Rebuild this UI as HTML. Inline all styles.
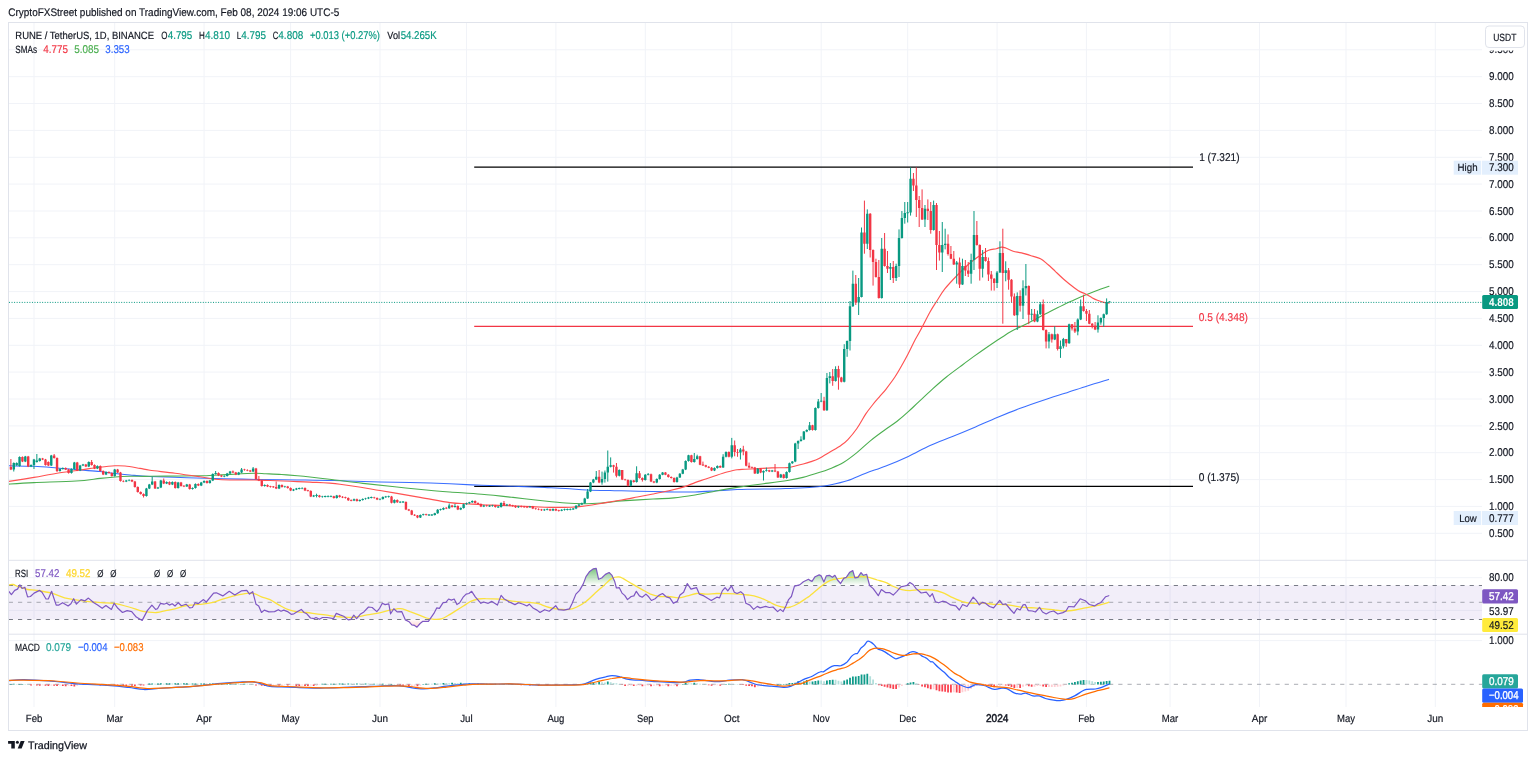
<!DOCTYPE html>
<html><head><meta charset="utf-8"><title>RUNE / TetherUS chart</title>
<style>html,body{margin:0;padding:0;background:#fff;}body{width:1536px;height:760px;overflow:hidden;font-family:"Liberation Sans",sans-serif;}svg{display:block}</style>
</head><body>
<svg width="1536" height="760" viewBox="0 0 1536 760" font-family="Liberation Sans, sans-serif" text-rendering="geometricPrecision"><rect x="0" y="0" width="1536" height="760" fill="#fff"/>
<line x1="34.0" y1="23" x2="34.0" y2="707" stroke="#f1f3f8" stroke-width="1"/>
<line x1="114.7" y1="23" x2="114.7" y2="707" stroke="#f1f3f8" stroke-width="1"/>
<line x1="204.1" y1="23" x2="204.1" y2="707" stroke="#f1f3f8" stroke-width="1"/>
<line x1="290.6" y1="23" x2="290.6" y2="707" stroke="#f1f3f8" stroke-width="1"/>
<line x1="380.0" y1="23" x2="380.0" y2="707" stroke="#f1f3f8" stroke-width="1"/>
<line x1="466.5" y1="23" x2="466.5" y2="707" stroke="#f1f3f8" stroke-width="1"/>
<line x1="555.9" y1="23" x2="555.9" y2="707" stroke="#f1f3f8" stroke-width="1"/>
<line x1="645.3" y1="23" x2="645.3" y2="707" stroke="#f1f3f8" stroke-width="1"/>
<line x1="731.8" y1="23" x2="731.8" y2="707" stroke="#f1f3f8" stroke-width="1"/>
<line x1="821.2" y1="23" x2="821.2" y2="707" stroke="#f1f3f8" stroke-width="1"/>
<line x1="907.7" y1="23" x2="907.7" y2="707" stroke="#f1f3f8" stroke-width="1"/>
<line x1="997.1" y1="23" x2="997.1" y2="707" stroke="#f1f3f8" stroke-width="1"/>
<line x1="1086.4" y1="23" x2="1086.4" y2="707" stroke="#f1f3f8" stroke-width="1"/>
<line x1="1170.1" y1="23" x2="1170.1" y2="707" stroke="#f1f3f8" stroke-width="1"/>
<line x1="1259.5" y1="23" x2="1259.5" y2="707" stroke="#f1f3f8" stroke-width="1"/>
<line x1="1346.0" y1="23" x2="1346.0" y2="707" stroke="#f1f3f8" stroke-width="1"/>
<line x1="1435.3" y1="23" x2="1435.3" y2="707" stroke="#f1f3f8" stroke-width="1"/>
<line x1="9" y1="533.3" x2="1482" y2="533.3" stroke="#f1f3f8" stroke-width="1"/>
<line x1="9" y1="506.4" x2="1482" y2="506.4" stroke="#f1f3f8" stroke-width="1"/>
<line x1="9" y1="479.6" x2="1482" y2="479.6" stroke="#f1f3f8" stroke-width="1"/>
<line x1="9" y1="452.7" x2="1482" y2="452.7" stroke="#f1f3f8" stroke-width="1"/>
<line x1="9" y1="425.9" x2="1482" y2="425.9" stroke="#f1f3f8" stroke-width="1"/>
<line x1="9" y1="399.0" x2="1482" y2="399.0" stroke="#f1f3f8" stroke-width="1"/>
<line x1="9" y1="372.1" x2="1482" y2="372.1" stroke="#f1f3f8" stroke-width="1"/>
<line x1="9" y1="345.3" x2="1482" y2="345.3" stroke="#f1f3f8" stroke-width="1"/>
<line x1="9" y1="318.4" x2="1482" y2="318.4" stroke="#f1f3f8" stroke-width="1"/>
<line x1="9" y1="291.6" x2="1482" y2="291.6" stroke="#f1f3f8" stroke-width="1"/>
<line x1="9" y1="264.7" x2="1482" y2="264.7" stroke="#f1f3f8" stroke-width="1"/>
<line x1="9" y1="237.8" x2="1482" y2="237.8" stroke="#f1f3f8" stroke-width="1"/>
<line x1="9" y1="211.0" x2="1482" y2="211.0" stroke="#f1f3f8" stroke-width="1"/>
<line x1="9" y1="184.1" x2="1482" y2="184.1" stroke="#f1f3f8" stroke-width="1"/>
<line x1="9" y1="157.3" x2="1482" y2="157.3" stroke="#f1f3f8" stroke-width="1"/>
<line x1="9" y1="130.4" x2="1482" y2="130.4" stroke="#f1f3f8" stroke-width="1"/>
<line x1="9" y1="103.5" x2="1482" y2="103.5" stroke="#f1f3f8" stroke-width="1"/>
<line x1="9" y1="76.7" x2="1482" y2="76.7" stroke="#f1f3f8" stroke-width="1"/>
<line x1="9" y1="49.8" x2="1482" y2="49.8" stroke="#f1f3f8" stroke-width="1"/>
<line x1="9" y1="577.7" x2="1482" y2="577.7" stroke="#f1f3f8" stroke-width="1"/>
<line x1="9" y1="610.4" x2="1482" y2="610.4" stroke="#f1f3f8" stroke-width="1"/>
<line x1="9" y1="640.6" x2="1482" y2="640.6" stroke="#f1f3f8" stroke-width="1"/>
<clipPath id="cmain"><rect x="9" y="23" width="1473" height="537"/></clipPath><clipPath id="crsi"><rect x="9" y="560.5" width="1473" height="73.5"/></clipPath>
<g id="main" clip-path="url(#cmain)">
<line x1="474.2" y1="167.0" x2="1193" y2="167.0" stroke="#000" stroke-width="1.25"/>
<line x1="474.2" y1="326.4" x2="1193" y2="326.4" stroke="#f23645" stroke-width="1.2"/>
<line x1="474.2" y1="486.4" x2="1193" y2="486.4" stroke="#000" stroke-width="1.25"/>
<path d="M8.0 465.8C12.3 465.9 25.8 466.0 34.0 466.3C42.2 466.6 49.3 467.3 57.0 467.9C64.7 468.5 72.8 469.4 80.0 470.0C87.2 470.6 94.2 471.0 100.0 471.6C105.8 472.2 110.0 472.9 115.0 473.5C120.0 474.1 124.2 474.5 130.0 475.0C135.8 475.5 140.5 476.1 150.0 476.5C159.5 476.9 174.7 477.3 187.0 477.7C199.3 478.1 211.5 478.4 223.7 478.7C235.9 479.0 247.8 479.3 260.0 479.5C272.2 479.7 284.7 479.7 297.0 479.9C309.3 480.1 320.2 480.2 334.0 480.6C347.8 481.0 367.3 481.7 380.0 482.0C392.7 482.3 398.3 482.1 410.0 482.4C421.7 482.7 438.1 483.3 450.0 483.8C461.9 484.3 471.1 484.9 481.6 485.3C492.1 485.7 502.5 486.0 513.0 486.3C523.5 486.6 535.9 487.0 544.7 487.4C553.5 487.8 558.8 488.0 565.8 488.4C572.8 488.8 579.4 489.6 586.8 490.0C594.2 490.4 604.2 490.5 610.0 490.6C615.8 490.7 614.4 490.6 621.6 490.8C628.8 491.0 644.3 491.4 653.0 491.6C661.7 491.8 667.0 491.9 674.0 492.0C681.0 492.1 688.0 492.1 695.0 491.9C702.0 491.7 709.0 491.2 716.0 490.8C723.0 490.4 731.3 489.9 737.0 489.6C742.7 489.3 745.3 489.3 750.0 489.2C754.7 489.1 759.8 489.1 765.0 489.0C770.2 488.9 775.2 488.9 781.0 488.7C786.8 488.5 793.8 488.3 800.0 488.0C806.2 487.7 813.0 487.2 818.0 486.7C823.0 486.2 825.0 486.0 830.0 485.0C835.0 484.0 841.9 482.6 847.9 480.6C853.9 478.6 859.5 475.6 865.8 473.2C872.1 470.8 878.8 468.8 885.9 466.0C893.0 463.2 900.8 459.9 908.3 456.4C915.8 452.9 923.2 448.5 930.7 445.2C938.2 441.9 945.6 439.4 953.1 436.3C960.6 433.2 968.0 430.1 975.5 426.9C983.0 423.7 990.3 420.4 997.8 417.3C1005.2 414.2 1012.7 411.1 1020.2 408.3C1027.7 405.5 1035.1 403.0 1042.6 400.5C1050.1 398.0 1057.5 395.7 1065.0 393.3C1072.5 390.9 1080.0 388.2 1087.3 385.9C1094.6 383.6 1105.0 380.5 1108.6 379.4" fill="none" stroke="#2962ff" stroke-width="1.05" stroke-linejoin="round" stroke-linecap="round" stroke-opacity="0.92"/>
<path d="M8.0 484.2C12.3 483.9 22.7 483.1 34.0 482.6C45.3 482.1 65.0 481.7 76.0 481.0C87.0 480.3 93.5 479.1 100.0 478.4C106.5 477.7 110.0 477.4 115.0 477.0C120.0 476.6 124.2 476.4 130.0 476.3C135.8 476.2 141.4 476.4 150.0 476.3C158.6 476.2 172.8 476.1 181.6 476.0C190.4 475.9 197.4 475.9 202.6 475.8C207.8 475.7 207.8 475.6 213.0 475.3C218.2 475.0 227.0 474.6 234.0 474.2C241.0 473.8 249.7 473.3 255.0 473.2C260.3 473.1 261.4 473.5 265.8 473.7C270.2 473.9 276.3 474.1 281.6 474.5C286.9 474.9 292.7 475.4 297.4 475.8C302.1 476.2 304.3 476.4 310.0 477.0C315.7 477.6 322.8 478.4 331.6 479.5C340.4 480.6 352.5 482.2 363.0 483.4C373.5 484.6 384.1 485.7 394.7 486.8C405.2 487.9 417.1 489.1 426.3 490.0C435.5 490.9 440.8 491.3 450.0 492.0C459.2 492.7 471.1 493.4 481.6 494.3C492.1 495.2 502.5 496.3 513.0 497.4C523.5 498.5 535.9 500.1 544.7 501.0C553.5 501.9 560.6 502.6 565.8 503.0C571.0 503.4 572.5 503.4 576.0 503.5C579.5 503.6 583.2 503.7 586.8 503.7C590.4 503.7 593.5 503.6 597.4 503.3C601.3 503.1 606.0 502.6 610.0 502.2C614.0 501.8 614.4 501.4 621.6 500.9C628.8 500.4 644.3 499.5 653.0 499.0C661.7 498.5 667.0 498.6 674.0 497.9C681.0 497.2 688.0 496.1 695.0 495.0C702.0 493.9 709.0 492.3 716.0 491.0C723.0 489.7 731.3 488.3 737.0 487.4C742.7 486.5 745.5 486.1 750.0 485.5C754.5 484.9 757.5 484.5 763.7 483.7C769.9 482.9 780.9 481.6 787.4 480.5C793.9 479.4 797.7 478.7 803.0 477.4C808.3 476.1 814.5 474.1 819.0 472.6C823.5 471.2 825.9 470.4 830.0 468.7C834.1 467.0 838.9 465.2 843.4 462.5C847.9 459.8 852.4 456.2 856.9 452.6C861.4 449.0 865.8 444.5 870.3 440.8C874.8 437.1 879.2 433.9 883.7 430.7C888.2 427.4 893.0 424.5 897.1 421.3C901.2 418.1 904.6 415.1 908.3 411.7C912.0 408.3 915.4 405.0 919.5 401.2C923.6 397.4 928.4 392.6 932.9 388.6C937.4 384.6 941.9 380.6 946.4 377.0C950.9 373.4 955.3 370.2 959.8 366.9C964.3 363.5 968.7 360.1 973.2 356.9C977.7 353.7 982.1 350.6 986.6 347.5C991.1 344.4 995.9 341.1 1000.0 338.5C1004.1 335.9 1007.4 333.6 1011.0 331.6C1014.6 329.6 1018.1 328.1 1021.6 326.3C1025.1 324.5 1028.5 322.8 1032.0 321.0C1035.5 319.2 1039.1 317.1 1042.6 315.3C1046.1 313.5 1049.5 311.8 1053.0 310.0C1056.5 308.2 1060.2 306.4 1063.7 304.7C1067.2 303.0 1070.5 301.6 1074.0 300.0C1077.5 298.4 1081.2 296.8 1084.7 295.3C1088.2 293.9 1091.0 292.8 1095.0 291.3C1099.0 289.8 1106.7 287.1 1109.0 286.3" fill="none" stroke="#4caf50" stroke-width="1.1" stroke-linejoin="round" stroke-linecap="round" />
<path d="M8.0 481.6C12.3 480.9 25.8 478.8 34.0 477.4C42.2 476.0 49.3 474.4 57.0 473.2C64.7 472.0 72.8 471.0 80.0 470.0C87.2 469.0 94.2 467.9 100.0 467.2C105.8 466.5 110.8 466.0 115.0 465.8C119.2 465.6 120.8 465.6 125.0 466.0C129.2 466.4 135.8 467.7 140.0 468.4C144.2 469.1 144.2 469.5 150.0 470.3C155.8 471.1 166.7 472.1 175.0 473.2C183.3 474.3 193.3 475.8 200.0 476.8C206.7 477.8 210.0 478.7 215.0 479.2C220.0 479.7 223.3 479.9 230.0 480.0C236.7 480.1 248.3 479.9 255.0 480.0C261.7 480.1 264.2 480.3 270.0 480.5C275.8 480.7 283.3 481.0 290.0 481.3C296.7 481.6 301.7 481.6 310.0 482.1C318.3 482.6 328.3 482.8 340.0 484.2C351.7 485.6 366.7 488.3 380.0 490.5C393.3 492.7 408.3 495.4 420.0 497.4C431.7 499.4 442.3 501.6 450.0 502.6C457.7 503.7 460.7 503.4 466.0 503.7C471.3 504.0 475.5 504.4 481.6 504.7C487.7 505.0 495.6 505.2 502.6 505.5C509.6 505.8 516.7 506.0 523.7 506.3C530.7 506.6 539.5 507.0 544.7 507.2C549.9 507.4 550.6 507.4 555.0 507.4C559.4 507.4 566.6 507.4 571.0 507.2C575.4 507.0 578.1 506.8 581.6 506.4C585.1 506.0 588.0 505.6 592.0 505.0C596.0 504.4 600.9 503.4 605.8 502.6C610.7 501.8 616.3 500.9 621.6 500.0C626.9 499.1 632.2 498.0 637.4 497.0C642.6 496.0 647.7 495.0 653.0 494.0C658.3 493.0 663.7 492.0 669.0 490.8C674.3 489.6 680.4 488.0 684.7 486.6C689.0 485.2 691.5 483.9 695.0 482.6C698.5 481.3 702.3 480.2 705.8 479.0C709.3 477.8 712.5 476.7 716.0 475.5C719.5 474.3 723.5 472.9 727.0 472.0C730.5 471.1 734.0 470.2 737.0 469.8C740.0 469.4 741.9 469.5 745.0 469.3C748.1 469.1 751.4 468.9 755.8 468.7C760.2 468.5 766.3 468.1 771.6 467.9C776.9 467.7 783.5 467.9 787.4 467.6C791.3 467.3 792.7 466.6 795.3 466.0C797.9 465.4 800.6 464.7 803.2 464.0C805.8 463.3 808.4 462.5 811.0 461.6C813.6 460.7 815.8 460.0 819.0 458.4C822.2 456.8 826.3 454.2 830.0 452.0C833.7 449.8 838.2 447.3 841.2 445.2C844.2 443.1 845.3 442.4 847.9 439.6C850.5 436.8 853.9 432.8 856.9 428.5C859.9 424.2 863.2 417.8 865.8 413.9C868.4 410.0 870.3 407.8 872.5 405.0C874.7 402.2 877.0 399.7 879.2 397.1C881.4 394.5 883.3 392.7 885.9 389.3C888.5 385.9 892.3 380.9 894.9 377.0C897.5 373.1 899.4 369.7 901.6 365.8C903.8 361.9 906.1 357.8 908.3 353.5C910.5 349.2 913.0 343.9 915.0 340.0C917.0 336.1 918.1 334.7 920.6 330.0C923.1 325.3 927.3 316.9 930.0 312.0C932.7 307.1 934.5 304.6 937.0 300.7C939.5 296.8 941.6 293.0 945.0 288.7C948.4 284.4 953.3 279.3 957.5 275.0C961.7 270.7 965.8 266.6 970.0 263.0C974.2 259.4 979.4 255.8 982.5 253.7C985.6 251.6 986.4 251.1 988.7 250.3C991.0 249.5 994.1 249.2 996.3 248.7C998.4 248.2 1000.0 247.2 1001.6 247.1C1003.2 247.0 1003.9 247.3 1005.8 248.0C1007.7 248.7 1010.6 250.5 1013.2 251.3C1015.8 252.1 1018.5 252.1 1021.6 252.9C1024.7 253.7 1028.8 255.0 1032.0 256.0C1035.2 257.0 1037.8 257.3 1040.5 258.7C1043.2 260.1 1045.4 262.4 1047.9 264.5C1050.4 266.6 1052.7 268.9 1055.3 271.3C1057.9 273.8 1060.9 276.8 1063.7 279.2C1066.5 281.6 1069.5 284.1 1072.0 286.0C1074.5 287.9 1076.3 289.5 1078.4 290.8C1080.5 292.1 1082.6 292.6 1084.7 293.6C1086.8 294.7 1088.9 296.0 1091.0 297.1C1093.1 298.2 1095.3 299.4 1097.4 300.3C1099.5 301.2 1101.8 301.9 1103.7 302.4C1105.6 302.9 1108.1 303.0 1109.0 303.1" fill="none" stroke="#ff5252" stroke-width="1.15" stroke-linejoin="round" stroke-linecap="round" />
<line x1="9" y1="302.4" x2="1482" y2="302.4" stroke="#089981" stroke-width="1" stroke-dasharray="1 1.55"/>
<path d="M13.78 462.4V471.5M16.67 462.4V465.8M19.55 456.4V466.6M25.32 455.9V462.1M31.08 464.4V467.1M33.97 458.9V469.0M36.85 454.0V462.6M39.73 457.9V461.6M51.27 454.9V466.1M59.92 468.4V471.6M62.80 467.4V469.6M71.45 468.4V473.6M74.34 461.9V469.6M80.10 464.9V471.1M82.99 463.9V466.1M88.75 461.4V467.1M97.41 465.4V469.1M106.06 471.4V475.1M114.71 468.9V476.6M126.24 479.9V482.1M129.12 479.3V481.2M146.42 487.9V496.6M149.31 483.9V489.1M152.19 476.8V485.1M157.96 486.9V488.9M160.84 479.9V488.1M166.61 481.4V484.1M172.38 481.4V485.1M178.14 481.9V488.6M186.79 483.9V486.9M192.56 487.4V489.6M195.44 483.4V488.6M201.21 481.9V486.1M204.09 480.4V483.1M209.86 479.9V483.6M212.75 473.4V481.1M215.63 471.0V474.6M224.28 475.3V477.2M227.16 472.9V476.6M230.05 470.9V474.1M238.70 471.9V475.1M241.58 468.0V473.1M253.11 467.0V472.1M264.65 484.4V486.6M279.07 484.4V489.1M284.83 485.8V487.7M293.48 488.9V491.1M296.37 487.9V490.1M299.25 487.6V489.4M302.13 487.3V489.2M313.67 494.9V497.1M316.55 493.7V497.4M322.32 495.8V497.7M325.20 495.6V497.4M328.08 495.4V497.3M330.97 495.4V497.2M336.74 494.9V498.6M354.04 498.6V501.1M359.80 499.4V501.6M362.69 498.4V500.6M365.57 497.8V499.7M368.45 496.9V499.1M371.34 496.6V498.4M379.99 498.3V500.2M382.87 496.4V499.6M385.75 495.9V497.8M388.64 495.7V497.6M394.41 499.4V503.4M400.17 501.2V503.1M403.06 501.1V502.9M420.36 514.5V518.0M423.24 513.7V515.6M429.01 514.1V515.9M431.89 514.1V515.9M434.77 512.8V515.5M437.66 509.1V513.8M440.54 508.7V510.6M443.43 507.4V510.1M449.19 503.5V508.9M454.96 504.0V507.6M460.73 507.4V510.1M463.61 503.6V508.6M466.49 502.6V504.8M469.38 501.8V503.8M472.26 500.4V502.9M483.79 504.9V507.1M489.56 505.1V506.9M492.44 504.8V506.7M498.21 506.1V507.9M501.10 502.4V507.6M506.86 503.9V506.1M518.40 505.8V507.9M529.93 505.9V507.8M544.35 508.9V510.9M547.23 508.4V510.3M553.00 508.4V511.1M561.65 509.2V511.2M564.53 508.7V510.6M567.42 508.6V510.4M570.30 508.4V510.3M573.18 508.0V509.9M576.07 505.2V509.2M578.95 503.9V506.4M581.83 502.6V505.1M584.72 497.8V503.8M587.60 489.0V498.9M590.48 482.1V492.1M593.37 478.9V483.2M596.25 471.0V480.1M602.02 471.6V484.7M604.90 470.5V482.6M607.78 450.5V481.6M610.67 457.4V467.4M619.32 469.4V476.4M630.85 479.9V486.4M636.62 466.3V482.6M645.27 474.1V480.6M648.15 473.0V475.4M656.80 478.4V483.2M659.69 474.1V479.6M662.57 472.1V475.2M676.99 476.8V482.6M679.87 473.1V477.9M682.76 468.9V474.2M685.64 460.4V470.1M688.52 454.8V461.6M694.29 453.0V462.6M697.17 454.7V459.6M714.47 467.4V471.1M717.36 465.4V468.6M723.12 454.2V467.9M726.01 451.4V457.4M731.77 437.9V458.4M740.43 448.0V459.5M757.73 468.1V473.9M763.49 470.4V480.5M766.38 467.6V471.6M772.14 469.9V472.1M780.79 473.9V477.9M786.56 471.4V478.6M789.45 462.6V472.6M792.33 461.1V463.8M795.21 442.8V462.2M798.10 440.4V449.0M800.98 436.3V441.6M803.86 431.1V440.1M806.75 429.4V432.2M809.63 422.0V430.6M815.40 407.4V430.6M818.28 399.0V408.6M821.16 393.0V402.2M826.93 373.0V410.9M829.81 372.0V383.4M835.58 366.3V381.6M844.23 344.2V382.4M847.12 340.5V356.8M850.00 301.0V350.5M852.88 270.6V306.9M858.65 278.0V315.0M861.53 227.5V297.4M867.30 209.4V249.0M881.72 238.0V298.6M890.37 263.0V280.0M896.13 263.7V281.0M899.02 229.4V277.0M901.90 211.0V238.6M904.79 202.0V223.7M907.67 202.0V222.5M910.55 167.5V215.6M924.97 205.0V227.0M933.62 200.6V230.6M942.27 222.0V272.0M945.15 228.7V249.4M956.69 261.0V283.7M962.46 258.7V284.9M971.11 253.7V283.7M973.99 211.0V270.0M982.64 250.0V277.5M997.06 271.0V288.0M999.94 241.3V272.9M1005.71 261.3V281.3M1017.24 292.4V330.0M1023.01 280.3V319.0M1025.89 264.0V295.5M1031.66 309.0V320.5M1037.43 310.5V322.2M1040.31 302.0V314.8M1048.96 332.0V348.4M1054.73 326.3V340.1M1060.49 340.5V357.9M1063.38 337.9V348.4M1069.14 323.7V343.8M1077.80 318.4V335.3M1080.68 299.5V320.1M1097.98 315.3V332.6M1100.86 317.4V324.7M1103.75 313.6V326.8M1106.63 298.4V314.8M1109.51 301.2V302.7" stroke="#089981" stroke-width="1" fill="none"/>
<path d="M10.90 459.0V470.1M22.43 456.4V462.1M28.20 455.9V467.1M42.62 457.9V460.1M45.50 458.9V465.6M48.39 461.4V466.1M54.15 454.0V458.6M57.04 457.4V472.0M65.69 467.4V470.1M68.57 468.9V473.6M77.22 461.9V471.1M85.87 463.9V467.1M91.64 460.0V465.6M94.52 464.4V469.1M100.29 465.4V471.6M103.17 470.4V475.1M108.94 471.4V473.6M111.82 472.4V476.6M117.59 468.9V473.1M120.47 471.9V481.6M123.36 480.3V482.2M132.01 479.4V482.1M134.89 480.9V487.6M137.77 486.4V492.6M140.66 491.4V494.6M143.54 493.4V497.5M155.08 480.9V488.9M163.73 478.5V484.1M169.49 481.4V485.1M175.26 481.4V488.6M181.03 481.9V486.6M183.91 485.2V487.1M189.68 483.9V489.6M198.33 483.4V486.1M206.98 480.4V483.6M218.51 472.4V476.1M221.40 474.9V477.1M232.93 470.5V473.1M235.81 471.9V475.1M244.46 468.8V470.7M247.35 469.3V471.2M250.23 469.9V472.1M256.00 467.9V479.6M258.88 476.0V481.1M261.76 479.9V486.6M267.53 484.4V487.1M270.42 485.8V487.6M273.30 486.0V487.9M276.18 481.5V489.1M281.95 484.4V487.6M287.72 485.9V488.6M290.60 487.4V491.1M305.02 487.4V491.1M307.90 489.8V491.6M310.78 490.3V497.1M319.43 494.9V497.6M333.85 495.8V498.6M339.62 494.9V497.6M342.50 496.2V498.1M345.39 496.7V498.6M348.27 497.4V500.9M351.15 499.4V501.3M356.92 498.6V501.6M374.22 496.8V498.7M377.10 497.4V500.1M391.52 495.9V503.4M397.29 499.4V502.9M405.94 501.4V510.1M408.82 508.9V511.1M411.71 509.9V515.2M414.59 514.2V516.0M417.47 515.0V518.2M426.12 513.7V515.6M446.31 507.2V509.1M452.08 504.9V507.6M457.84 505.4V510.1M475.14 500.4V503.6M478.03 502.4V504.6M480.91 503.4V507.1M486.68 504.8V506.7M495.33 504.9V507.6M503.98 501.0V506.1M509.75 503.9V506.1M512.63 504.8V506.7M515.51 505.4V507.9M521.28 505.6V507.5M524.16 505.9V507.8M527.05 506.2V508.1M532.81 505.9V509.1M535.70 507.8V509.7M538.58 508.3V510.2M541.46 508.9V510.9M550.11 508.8V511.1M555.88 508.4V511.1M558.76 509.7V511.6M599.13 470.0V483.2M613.55 464.8V472.6M616.44 463.0V477.4M622.20 470.0V480.1M625.09 478.8V480.7M627.97 479.4V486.4M633.74 479.9V482.6M639.50 471.0V478.6M642.39 477.4V481.6M651.04 473.6V482.1M653.92 480.9V483.2M665.45 472.1V475.2M668.34 474.1V477.6M671.22 476.4V478.6M674.11 477.4V482.6M691.41 454.8V462.6M700.06 455.8V465.2M702.94 461.6V465.9M705.82 464.8V467.4M708.71 466.2V468.2M711.59 467.1V471.1M720.24 465.4V467.9M728.89 451.4V457.4M734.66 440.5V456.3M737.54 449.0V456.8M743.31 445.8V455.3M746.19 450.9V466.4M749.08 462.6V468.4M751.96 466.5V468.4M754.84 466.9V473.9M760.61 468.1V473.2M769.26 469.8V472.1M775.03 464.0V472.1M777.91 470.9V477.9M783.68 473.9V478.6M812.51 424.8V430.6M824.05 396.8V410.9M832.70 369.0V385.8M838.46 365.8V389.7M841.35 376.8V382.4M855.77 275.0V305.0M864.42 200.6V253.7M870.18 213.1V257.5M873.07 249.4V285.6M875.95 258.7V277.6M878.83 260.0V298.6M884.60 233.0V266.6M887.48 251.0V273.0M893.25 261.0V283.0M913.44 173.0V191.0M916.32 167.5V217.0M919.20 196.0V227.0M922.09 189.4V220.0M927.85 199.4V220.0M930.74 202.0V233.7M936.50 203.0V270.0M939.39 231.0V260.6M948.04 234.4V255.6M950.92 246.0V259.2M953.80 251.0V264.9M959.57 257.5V288.0M965.34 260.0V276.0M968.22 262.0V277.0M976.87 221.0V245.6M979.76 244.4V280.6M985.52 248.0V261.6M988.41 257.5V281.0M991.29 271.0V290.6M994.17 278.1V290.6M1002.82 228.7V323.7M1008.59 268.0V289.7M1011.47 279.1V302.4M1014.36 293.4V315.9M1020.12 290.3V311.6M1028.78 285.4V324.2M1034.54 309.0V322.2M1043.19 299.5V330.6M1046.08 329.4V348.4M1051.84 333.6V342.6M1057.61 333.6V350.5M1066.26 339.0V346.8M1072.03 324.2V330.5M1074.91 322.0V333.0M1083.56 294.7V311.6M1086.45 309.0V321.0M1089.33 310.0V324.2M1092.21 323.1V328.4M1095.10 322.0V330.1" stroke="#f23645" stroke-width="1" fill="none"/>
<path d="M12.58 463.0h2.4V469.5h-2.4zM15.47 463.0h2.4V465.2h-2.4zM18.35 457.0h2.4V466.0h-2.4zM24.12 456.5h2.4V461.5h-2.4zM29.88 465.0h2.4V466.5h-2.4zM32.77 459.5h2.4V465.0h-2.4zM35.65 460.5h2.4V462.0h-2.4zM38.53 458.5h2.4V461.0h-2.4zM50.07 455.5h2.4V465.5h-2.4zM58.72 469.0h2.4V471.0h-2.4zM61.60 468.0h2.4V469.0h-2.4zM70.25 469.0h2.4V473.0h-2.4zM73.14 462.5h2.4V469.0h-2.4zM78.90 465.5h2.4V470.5h-2.4zM81.79 464.5h2.4V465.5h-2.4zM87.55 462.0h2.4V466.5h-2.4zM96.21 466.0h2.4V468.5h-2.4zM104.86 472.0h2.4V474.5h-2.4zM113.51 469.5h2.4V476.0h-2.4zM125.04 480.5h2.4V481.5h-2.4zM127.92 479.9h2.4V480.6h-2.4zM145.22 488.5h2.4V496.0h-2.4zM148.11 484.5h2.4V488.5h-2.4zM150.99 481.5h2.4V484.5h-2.4zM156.76 487.5h2.4V488.4h-2.4zM159.64 480.5h2.4V487.5h-2.4zM165.41 482.0h2.4V483.5h-2.4zM171.18 482.0h2.4V484.5h-2.4zM176.94 482.5h2.4V488.0h-2.4zM185.59 484.5h2.4V486.4h-2.4zM191.36 488.0h2.4V489.0h-2.4zM194.24 484.0h2.4V488.0h-2.4zM200.01 482.5h2.4V485.5h-2.4zM202.89 481.0h2.4V482.5h-2.4zM208.66 480.5h2.4V483.0h-2.4zM211.55 474.0h2.4V480.5h-2.4zM214.43 473.0h2.4V474.0h-2.4zM223.08 475.9h2.4V476.6h-2.4zM225.96 473.5h2.4V476.0h-2.4zM228.85 471.5h2.4V473.5h-2.4zM237.50 472.5h2.4V474.5h-2.4zM240.38 469.5h2.4V472.5h-2.4zM251.91 468.5h2.4V471.5h-2.4zM263.45 485.0h2.4V486.0h-2.4zM277.87 485.0h2.4V488.5h-2.4zM283.63 486.4h2.4V487.1h-2.4zM292.28 489.5h2.4V490.5h-2.4zM295.17 488.5h2.4V489.5h-2.4zM298.05 488.1h2.4V488.9h-2.4zM300.93 487.9h2.4V488.6h-2.4zM312.47 495.5h2.4V496.5h-2.4zM315.35 495.1h2.4V495.9h-2.4zM321.12 496.4h2.4V497.1h-2.4zM324.00 496.1h2.4V496.9h-2.4zM326.88 496.0h2.4V496.8h-2.4zM329.77 495.9h2.4V496.7h-2.4zM335.54 495.5h2.4V498.0h-2.4zM352.84 499.2h2.4V500.5h-2.4zM358.60 500.0h2.4V501.0h-2.4zM361.49 499.0h2.4V500.0h-2.4zM364.37 498.4h2.4V499.1h-2.4zM367.25 497.5h2.4V498.5h-2.4zM370.14 497.1h2.4V497.9h-2.4zM378.79 498.9h2.4V499.6h-2.4zM381.67 497.0h2.4V499.0h-2.4zM384.56 496.5h2.4V497.2h-2.4zM387.44 496.2h2.4V497.0h-2.4zM393.21 500.0h2.4V502.8h-2.4zM398.97 501.8h2.4V502.5h-2.4zM401.86 501.6h2.4V502.4h-2.4zM419.16 515.0h2.4V517.5h-2.4zM422.04 514.2h2.4V515.0h-2.4zM427.81 514.6h2.4V515.4h-2.4zM430.69 514.6h2.4V515.4h-2.4zM433.57 513.3h2.4V515.0h-2.4zM436.46 509.7h2.4V513.3h-2.4zM439.34 509.2h2.4V510.0h-2.4zM442.23 508.0h2.4V509.5h-2.4zM447.99 505.5h2.4V508.3h-2.4zM453.76 506.0h2.4V507.0h-2.4zM459.53 508.0h2.4V509.5h-2.4zM462.41 504.2h2.4V508.0h-2.4zM465.29 503.2h2.4V504.2h-2.4zM468.18 502.3h2.4V503.2h-2.4zM471.06 501.0h2.4V502.3h-2.4zM482.59 505.5h2.4V506.5h-2.4zM488.36 505.6h2.4V506.4h-2.4zM491.24 505.4h2.4V506.1h-2.4zM497.01 506.6h2.4V507.4h-2.4zM499.90 503.0h2.4V507.0h-2.4zM505.66 504.5h2.4V505.5h-2.4zM517.20 506.3h2.4V507.3h-2.4zM528.73 506.5h2.4V507.2h-2.4zM543.15 509.5h2.4V510.3h-2.4zM546.03 509.0h2.4V509.8h-2.4zM551.80 509.0h2.4V510.5h-2.4zM560.45 509.8h2.4V510.7h-2.4zM563.33 509.2h2.4V510.0h-2.4zM566.22 509.1h2.4V509.9h-2.4zM569.10 509.0h2.4V509.8h-2.4zM571.98 508.6h2.4V509.4h-2.4zM574.87 505.8h2.4V508.6h-2.4zM577.75 504.5h2.4V505.8h-2.4zM580.63 503.2h2.4V504.5h-2.4zM583.52 498.4h2.4V503.2h-2.4zM586.40 491.5h2.4V498.4h-2.4zM589.28 482.6h2.4V491.5h-2.4zM592.17 479.5h2.4V482.6h-2.4zM595.05 476.8h2.4V479.5h-2.4zM600.82 479.0h2.4V482.6h-2.4zM603.70 472.6h2.4V479.0h-2.4zM606.58 466.8h2.4V472.6h-2.4zM609.47 465.3h2.4V466.8h-2.4zM618.12 470.0h2.4V475.8h-2.4zM629.65 480.5h2.4V485.8h-2.4zM635.42 473.2h2.4V482.0h-2.4zM644.07 474.7h2.4V480.0h-2.4zM646.95 474.1h2.4V474.8h-2.4zM655.60 479.0h2.4V482.6h-2.4zM658.49 474.7h2.4V479.0h-2.4zM661.37 472.6h2.4V474.7h-2.4zM675.79 477.4h2.4V482.0h-2.4zM678.67 473.7h2.4V477.4h-2.4zM681.56 469.5h2.4V473.7h-2.4zM684.44 461.0h2.4V469.5h-2.4zM687.32 455.3h2.4V461.0h-2.4zM693.09 459.0h2.4V462.0h-2.4zM695.97 456.3h2.4V459.0h-2.4zM713.27 468.0h2.4V470.5h-2.4zM716.16 466.0h2.4V468.0h-2.4zM721.92 456.8h2.4V467.4h-2.4zM724.81 452.0h2.4V456.8h-2.4zM730.57 445.3h2.4V456.8h-2.4zM739.23 449.5h2.4V452.6h-2.4zM756.53 468.7h2.4V473.4h-2.4zM762.29 471.0h2.4V472.6h-2.4zM765.18 470.2h2.4V471.0h-2.4zM770.94 470.5h2.4V471.5h-2.4zM779.59 474.5h2.4V477.4h-2.4zM785.36 472.0h2.4V478.0h-2.4zM788.25 463.2h2.4V472.0h-2.4zM791.13 461.6h2.4V463.2h-2.4zM794.01 443.4h2.4V461.6h-2.4zM796.90 441.0h2.4V443.4h-2.4zM799.78 439.5h2.4V441.0h-2.4zM802.66 431.6h2.4V439.5h-2.4zM805.55 430.0h2.4V431.6h-2.4zM808.43 425.3h2.4V430.0h-2.4zM814.20 408.0h2.4V430.0h-2.4zM817.08 401.6h2.4V408.0h-2.4zM819.96 400.8h2.4V401.6h-2.4zM825.73 378.0h2.4V410.3h-2.4zM828.61 376.3h2.4V378.0h-2.4zM834.38 369.0h2.4V381.0h-2.4zM843.03 349.0h2.4V381.8h-2.4zM845.91 341.0h2.4V349.0h-2.4zM848.80 306.3h2.4V341.0h-2.4zM851.68 283.7h2.4V306.3h-2.4zM857.45 296.9h2.4V302.5h-2.4zM860.33 232.5h2.4V296.9h-2.4zM866.10 213.7h2.4V243.7h-2.4zM880.52 248.7h2.4V298.0h-2.4zM889.17 267.0h2.4V268.7h-2.4zM894.93 266.0h2.4V278.0h-2.4zM897.82 238.0h2.4V266.0h-2.4zM900.70 218.0h2.4V238.0h-2.4zM903.59 213.0h2.4V218.0h-2.4zM906.47 212.3h2.4V213.2h-2.4zM909.35 178.7h2.4V212.5h-2.4zM923.77 208.7h2.4V219.4h-2.4zM932.42 205.0h2.4V230.0h-2.4zM941.07 245.0h2.4V252.5h-2.4zM943.95 243.7h2.4V245.0h-2.4zM955.49 262.5h2.4V264.4h-2.4zM961.25 266.0h2.4V284.4h-2.4zM969.91 260.0h2.4V273.7h-2.4zM972.79 235.0h2.4V260.0h-2.4zM981.44 257.0h2.4V268.7h-2.4zM995.86 272.4h2.4V283.0h-2.4zM998.74 252.9h2.4V272.4h-2.4zM1004.51 270.3h2.4V273.0h-2.4zM1016.04 296.0h2.4V315.3h-2.4zM1021.81 288.2h2.4V305.8h-2.4zM1024.69 286.0h2.4V288.2h-2.4zM1030.46 313.7h2.4V314.7h-2.4zM1036.23 314.2h2.4V321.6h-2.4zM1039.11 304.2h2.4V314.2h-2.4zM1047.76 334.2h2.4V341.6h-2.4zM1053.53 334.2h2.4V339.5h-2.4zM1059.29 346.3h2.4V349.0h-2.4zM1062.18 339.0h2.4V346.3h-2.4zM1067.94 324.2h2.4V343.2h-2.4zM1076.60 319.5h2.4V331.6h-2.4zM1079.48 306.3h2.4V319.5h-2.4zM1096.78 322.6h2.4V329.5h-2.4zM1099.66 318.0h2.4V322.6h-2.4zM1102.55 314.2h2.4V318.0h-2.4zM1105.43 302.1h2.4V314.2h-2.4zM1108.31 301.4h2.4V302.1h-2.4z" fill="#089981"/>
<path d="M9.70 467.0h2.4V469.5h-2.4zM21.23 457.0h2.4V461.5h-2.4zM27.00 456.5h2.4V466.5h-2.4zM41.42 458.5h2.4V459.5h-2.4zM44.30 459.5h2.4V465.0h-2.4zM47.19 462.0h2.4V465.5h-2.4zM52.95 455.5h2.4V458.0h-2.4zM55.84 458.0h2.4V471.0h-2.4zM64.49 468.0h2.4V469.5h-2.4zM67.37 469.5h2.4V473.0h-2.4zM76.02 462.5h2.4V470.5h-2.4zM84.67 464.5h2.4V466.5h-2.4zM90.44 462.0h2.4V465.0h-2.4zM93.32 465.0h2.4V468.5h-2.4zM99.09 466.0h2.4V471.0h-2.4zM101.97 471.0h2.4V474.5h-2.4zM107.74 472.0h2.4V473.0h-2.4zM110.62 473.0h2.4V476.0h-2.4zM116.39 469.5h2.4V472.5h-2.4zM119.27 472.5h2.4V481.0h-2.4zM122.16 480.9h2.4V481.6h-2.4zM130.81 480.0h2.4V481.5h-2.4zM133.69 481.5h2.4V487.0h-2.4zM136.57 487.0h2.4V492.0h-2.4zM139.46 492.0h2.4V494.0h-2.4zM142.34 494.0h2.4V496.0h-2.4zM153.88 481.5h2.4V488.4h-2.4zM162.53 480.5h2.4V483.5h-2.4zM168.29 482.0h2.4V484.5h-2.4zM174.06 482.0h2.4V488.0h-2.4zM179.83 482.5h2.4V486.0h-2.4zM182.71 485.8h2.4V486.6h-2.4zM188.48 484.5h2.4V489.0h-2.4zM197.13 484.0h2.4V485.5h-2.4zM205.78 481.0h2.4V483.0h-2.4zM217.31 473.0h2.4V475.5h-2.4zM220.20 475.5h2.4V476.5h-2.4zM231.73 471.5h2.4V472.5h-2.4zM234.61 472.5h2.4V474.5h-2.4zM243.26 469.4h2.4V470.1h-2.4zM246.15 469.9h2.4V470.6h-2.4zM249.03 470.5h2.4V471.5h-2.4zM254.80 468.5h2.4V479.0h-2.4zM257.68 479.0h2.4V480.5h-2.4zM260.56 480.5h2.4V486.0h-2.4zM266.33 485.0h2.4V486.5h-2.4zM269.22 486.3h2.4V487.1h-2.4zM272.10 486.6h2.4V487.3h-2.4zM274.98 487.0h2.4V488.5h-2.4zM280.75 485.0h2.4V487.0h-2.4zM286.52 486.5h2.4V488.0h-2.4zM289.40 488.0h2.4V490.5h-2.4zM303.82 488.0h2.4V490.5h-2.4zM306.70 490.3h2.4V491.1h-2.4zM309.58 490.9h2.4V496.5h-2.4zM318.23 495.5h2.4V497.0h-2.4zM332.65 496.3h2.4V498.0h-2.4zM338.42 495.5h2.4V497.0h-2.4zM341.30 496.8h2.4V497.5h-2.4zM344.19 497.2h2.4V498.0h-2.4zM347.07 498.0h2.4V500.3h-2.4zM349.95 500.0h2.4V500.8h-2.4zM355.72 499.2h2.4V501.0h-2.4zM373.02 497.4h2.4V498.1h-2.4zM375.90 498.0h2.4V499.5h-2.4zM390.32 496.5h2.4V502.8h-2.4zM396.09 500.0h2.4V502.3h-2.4zM404.74 502.0h2.4V509.5h-2.4zM407.62 509.5h2.4V510.5h-2.4zM410.51 510.5h2.4V514.7h-2.4zM413.39 514.7h2.4V515.5h-2.4zM416.27 515.5h2.4V517.5h-2.4zM424.92 514.2h2.4V515.0h-2.4zM445.11 507.8h2.4V508.5h-2.4zM450.88 505.5h2.4V507.0h-2.4zM456.64 506.0h2.4V509.5h-2.4zM473.94 501.0h2.4V503.0h-2.4zM476.83 503.0h2.4V504.0h-2.4zM479.71 504.0h2.4V506.5h-2.4zM485.48 505.4h2.4V506.1h-2.4zM494.13 505.5h2.4V507.0h-2.4zM502.78 503.0h2.4V505.5h-2.4zM508.55 504.5h2.4V505.5h-2.4zM511.43 505.4h2.4V506.1h-2.4zM514.31 506.0h2.4V507.3h-2.4zM520.08 506.2h2.4V506.9h-2.4zM522.96 506.5h2.4V507.3h-2.4zM525.85 506.7h2.4V507.5h-2.4zM531.61 506.5h2.4V508.5h-2.4zM534.50 508.4h2.4V509.1h-2.4zM537.38 508.9h2.4V509.6h-2.4zM540.26 509.5h2.4V510.3h-2.4zM548.91 509.3h2.4V510.5h-2.4zM554.68 509.0h2.4V510.5h-2.4zM557.56 510.2h2.4V511.0h-2.4zM597.93 476.8h2.4V482.6h-2.4zM612.35 465.3h2.4V466.8h-2.4zM615.24 466.8h2.4V475.8h-2.4zM621.00 470.0h2.4V479.5h-2.4zM623.89 479.4h2.4V480.1h-2.4zM626.77 480.0h2.4V485.8h-2.4zM632.54 480.5h2.4V482.0h-2.4zM638.30 473.2h2.4V478.0h-2.4zM641.19 478.0h2.4V480.0h-2.4zM649.84 474.2h2.4V481.5h-2.4zM652.72 481.5h2.4V482.6h-2.4zM664.25 472.6h2.4V474.7h-2.4zM667.14 474.7h2.4V477.0h-2.4zM670.02 477.0h2.4V478.0h-2.4zM672.90 478.0h2.4V482.0h-2.4zM690.21 455.3h2.4V462.0h-2.4zM698.86 456.3h2.4V464.7h-2.4zM701.74 464.6h2.4V465.4h-2.4zM704.62 465.3h2.4V466.8h-2.4zM707.51 466.8h2.4V467.7h-2.4zM710.39 467.7h2.4V470.5h-2.4zM719.04 466.0h2.4V467.4h-2.4zM727.69 452.0h2.4V456.8h-2.4zM733.46 445.3h2.4V452.0h-2.4zM736.34 451.9h2.4V452.7h-2.4zM742.11 449.5h2.4V451.5h-2.4zM744.99 451.5h2.4V465.8h-2.4zM747.88 465.8h2.4V467.4h-2.4zM750.76 467.1h2.4V467.8h-2.4zM753.64 467.5h2.4V473.4h-2.4zM759.41 468.7h2.4V472.6h-2.4zM768.06 470.3h2.4V471.5h-2.4zM773.83 470.5h2.4V471.5h-2.4zM776.71 471.5h2.4V477.4h-2.4zM782.48 474.5h2.4V478.0h-2.4zM811.31 425.3h2.4V430.0h-2.4zM822.85 400.8h2.4V410.3h-2.4zM831.50 376.3h2.4V381.0h-2.4zM837.26 369.0h2.4V377.4h-2.4zM840.15 377.4h2.4V381.8h-2.4zM854.57 283.7h2.4V302.5h-2.4zM863.22 232.5h2.4V243.7h-2.4zM868.98 213.7h2.4V250.0h-2.4zM871.87 250.0h2.4V262.0h-2.4zM874.75 262.0h2.4V277.0h-2.4zM877.63 277.0h2.4V298.0h-2.4zM883.40 248.7h2.4V266.0h-2.4zM886.28 266.0h2.4V268.7h-2.4zM892.05 267.0h2.4V278.0h-2.4zM912.24 178.7h2.4V185.6h-2.4zM915.12 185.6h2.4V200.0h-2.4zM918.00 200.0h2.4V208.0h-2.4zM920.89 208.0h2.4V219.4h-2.4zM926.65 208.7h2.4V211.0h-2.4zM929.54 211.0h2.4V230.0h-2.4zM935.30 205.0h2.4V245.0h-2.4zM938.19 245.0h2.4V252.5h-2.4zM946.84 243.7h2.4V254.0h-2.4zM949.72 254.0h2.4V258.7h-2.4zM952.60 258.7h2.4V264.4h-2.4zM958.37 262.5h2.4V284.4h-2.4zM964.14 266.0h2.4V270.6h-2.4zM967.02 270.6h2.4V273.7h-2.4zM975.67 235.0h2.4V245.0h-2.4zM978.56 245.0h2.4V268.7h-2.4zM984.32 257.0h2.4V261.0h-2.4zM987.21 261.0h2.4V274.4h-2.4zM990.09 274.4h2.4V278.7h-2.4zM992.97 278.7h2.4V283.0h-2.4zM1001.62 252.9h2.4V273.0h-2.4zM1007.39 270.3h2.4V279.7h-2.4zM1010.27 279.7h2.4V296.6h-2.4zM1013.16 296.6h2.4V315.3h-2.4zM1018.92 296.0h2.4V305.8h-2.4zM1027.58 286.0h2.4V314.7h-2.4zM1033.34 313.7h2.4V321.6h-2.4zM1041.99 304.2h2.4V330.0h-2.4zM1044.88 330.0h2.4V341.6h-2.4zM1050.64 334.2h2.4V339.5h-2.4zM1056.41 334.2h2.4V349.0h-2.4zM1065.06 339.0h2.4V343.2h-2.4zM1070.83 324.2h2.4V328.4h-2.4zM1073.71 328.4h2.4V331.6h-2.4zM1082.36 306.3h2.4V311.0h-2.4zM1085.25 311.0h2.4V313.7h-2.4zM1088.13 313.7h2.4V323.7h-2.4zM1091.01 323.7h2.4V325.8h-2.4zM1093.90 325.8h2.4V329.5h-2.4z" fill="#f23645"/>
<text filter="url(#nf)" x="1199.2" y="161.4" font-size="11.3" fill="#131722" textLength="40.3" lengthAdjust="spacingAndGlyphs" stroke="#131722" stroke-width="0.18" >1 (7.321)</text>
<text filter="url(#nf)" x="1198.7" y="320.9" font-size="11.3" fill="#f23645" textLength="49.3" lengthAdjust="spacingAndGlyphs" stroke="#f23645" stroke-width="0.18" >0.5 (4.348)</text>
<text filter="url(#nf)" x="1198.7" y="480.7" font-size="11.3" fill="#131722" textLength="40.8" lengthAdjust="spacingAndGlyphs" stroke="#131722" stroke-width="0.18" >0 (1.375)</text>
</g>
<defs><filter id="nf" x="-5%" y="-50%" width="110%" height="200%"><feOffset dx="0" dy="0"/></filter><linearGradient id="gob" x1="0" y1="568" x2="0" y2="585.5" gradientUnits="userSpaceOnUse"><stop offset="0" stop-color="#4caf50" stop-opacity="0.75"/><stop offset="1" stop-color="#4caf50" stop-opacity="0"/></linearGradient><linearGradient id="gos" x1="0" y1="619.2" x2="0" y2="628" gradientUnits="userSpaceOnUse"><stop offset="0" stop-color="#ff5252" stop-opacity="0"/><stop offset="1" stop-color="#ff5252" stop-opacity="0.3"/></linearGradient><clipPath id="cob"><rect x="0" y="560" width="1482" height="25.5"/></clipPath><clipPath id="cos"><rect x="0" y="619.2" width="1482" height="15"/></clipPath><clipPath id="cmacd"><rect x="8" y="634.5" width="1520" height="72.5"/></clipPath></defs>
<rect x="9" y="585.5" width="1473" height="33.89999999999998" fill="#7e57c2" fill-opacity="0.1"/>
<line x1="8.75" y1="585.5" x2="1482" y2="585.5" stroke="#787b86" stroke-width="1.05" stroke-dasharray="4.2 5.046"/>
<line x1="8.75" y1="619.4" x2="1482" y2="619.4" stroke="#787b86" stroke-width="1.05" stroke-dasharray="4.2 5.046"/>
<line x1="8.75" y1="602.4" x2="1482" y2="602.4" stroke="#787b86" stroke-opacity="0.5" stroke-width="1.1" stroke-dasharray="4.2 5.046"/>
<path d="M8.8 591.3 L11.4 594.6 L14.7 590.4 L17.5 589.1 L19.9 584.9 L22.1 588.5 L24.9 587.3 L27.6 596.8 L30.4 596.5 L34.1 593.1 L39.6 590.4 L42.0 592.2 L46.0 599.0 L48.3 599.0 L51.6 591.3 L53.4 596.8 L56.2 605.1 L58.9 605.1 L62.6 602.7 L68.1 606.0 L70.9 603.8 L73.7 598.7 L76.4 604.2 L81.0 599.6 L84.7 600.9 L88.4 598.1 L93.9 602.7 L97.6 605.1 L102.2 608.3 L105.9 605.5 L111.4 609.4 L114.2 603.3 L117.9 608.3 L122.5 612.5 L127.1 610.6 L131.7 611.6 L136.3 617.1 L142.2 620.4 L147.3 610.6 L151.9 605.1 L155.6 609.4 L157.5 608.8 L160.6 603.3 L163.9 604.2 L166.7 603.3 L169.4 605.1 L172.2 603.8 L175.0 606.0 L178.3 602.7 L181.4 605.7 L186.0 604.2 L189.7 607.9 L192.4 607.5 L195.2 602.7 L198.0 603.8 L203.5 599.6 L206.3 602.0 L213.6 593.1 L216.4 592.8 L222.8 595.9 L229.3 591.3 L234.8 595.0 L241.3 590.9 L246.8 590.4 L249.5 594.1 L252.7 591.7 L256.0 604.2 L258.7 606.0 L261.5 612.5 L264.3 610.1 L268.9 611.9 L274.6 611.6 L278.3 609.7 L281.0 611.2 L283.8 610.1 L287.5 611.6 L291.2 614.3 L293.9 613.8 L297.6 611.6 L301.3 609.4 L304.1 612.5 L306.8 613.8 L310.5 618.0 L314.2 618.6 L316.0 617.5 L319.4 619.3 L322.5 617.5 L327.1 617.5 L333.5 618.6 L336.3 613.4 L340.0 614.9 L343.7 616.2 L348.3 619.9 L351.0 619.3 L353.8 615.2 L356.6 618.6 L360.2 614.3 L363.9 611.9 L368.5 607.0 L372.2 607.5 L376.8 611.6 L379.6 608.3 L382.3 603.3 L385.1 604.6 L388.8 603.8 L390.6 613.8 L393.8 608.8 L397.1 611.9 L401.7 611.6 L405.4 619.9 L409.0 621.7 L411.8 624.8 L414.6 625.4 L417.0 627.2 L420.1 623.5 L422.9 621.3 L428.4 621.3 L433.9 613.4 L436.7 607.9 L439.4 608.3 L443.1 602.7 L445.9 602.4 L448.6 599.0 L451.4 600.1 L454.2 599.0 L456.9 604.6 L459.7 602.7 L463.4 596.8 L466.1 594.1 L468.9 593.5 L471.7 591.3 L475.3 596.8 L480.9 603.3 L483.6 602.0 L488.2 603.3 L491.9 601.4 L497.4 605.1 L501.1 595.4 L503.9 598.7 L509.4 602.0 L514.9 604.6 L518.6 602.7 L523.2 604.2 L526.9 606.0 L529.3 604.2 L533.4 608.3 L537.0 610.1 L540.0 612.5 L544.6 609.7 L549.2 611.2 L552.9 608.3 L555.7 605.7 L558.4 609.7 L563.9 610.1 L569.5 608.8 L572.2 603.3 L575.9 594.1 L579.6 590.4 L583.3 583.9 L586.0 576.6 L589.7 571.4 L593.4 568.8 L596.2 568.3 L598.6 579.3 L601.7 578.0 L605.4 574.4 L609.1 572.5 L611.8 575.1 L614.6 581.2 L616.4 588.0 L619.2 587.6 L622.0 593.1 L624.7 595.4 L627.5 599.6 L631.2 596.5 L633.9 595.9 L636.3 591.3 L639.4 595.9 L642.2 597.2 L645.9 594.1 L648.7 596.8 L651.4 600.5 L655.1 598.7 L658.8 595.4 L662.5 593.5 L666.2 596.8 L669.8 597.8 L673.5 603.3 L677.2 601.4 L680.0 595.0 L683.6 592.2 L687.3 583.6 L691.0 589.1 L696.5 587.6 L699.3 594.1 L703.9 595.9 L711.3 600.5 L716.8 597.2 L719.6 597.8 L722.3 590.9 L725.1 587.6 L727.8 590.9 L731.5 585.8 L734.3 592.2 L737.1 593.5 L740.7 591.7 L743.5 594.1 L745.9 603.3 L749.9 605.1 L753.6 609.4 L757.3 606.4 L760.1 607.9 L765.6 606.4 L769.3 607.5 L773.0 607.0 L777.6 611.6 L780.3 609.4 L783.1 611.6 L785.9 606.0 L788.6 599.6 L791.4 596.5 L794.5 586.2 L799.7 584.9 L803.4 581.7 L808.5 579.3 L810.0 580.4 L812.0 581.4 L815.1 576.7 L819.2 574.9 L821.2 575.9 L823.9 582.0 L826.3 575.9 L829.4 575.3 L832.4 577.3 L834.9 575.3 L837.5 580.0 L840.6 583.5 L843.7 578.4 L846.3 577.3 L849.8 572.2 L852.8 570.6 L854.9 577.9 L857.9 577.3 L861.0 572.6 L863.4 575.3 L866.7 574.3 L869.6 585.5 L873.2 588.6 L878.3 595.7 L881.4 589.6 L885.5 592.6 L889.5 592.6 L893.2 595.1 L896.7 591.6 L900.8 586.9 L906.9 585.5 L909.9 582.4 L913.0 584.5 L916.1 588.6 L921.2 593.0 L926.3 592.2 L929.9 596.7 L932.4 593.7 L935.4 601.8 L938.5 602.8 L942.6 601.2 L945.6 601.8 L950.7 604.9 L955.8 605.9 L959.3 610.0 L962.6 604.5 L967.0 606.5 L973.2 597.1 L976.2 600.4 L979.3 604.9 L982.3 602.4 L985.4 603.2 L989.5 606.5 L993.6 607.9 L999.7 600.4 L1002.7 604.5 L1005.8 603.9 L1010.9 610.0 L1014.0 613.4 L1017.0 608.5 L1020.1 610.0 L1023.1 604.9 L1025.2 604.5 L1028.2 610.6 L1032.3 611.0 L1035.4 612.0 L1039.5 607.3 L1042.5 612.0 L1046.2 614.0 L1049.6 612.0 L1053.7 611.0 L1057.8 614.0 L1062.9 612.6 L1066.0 611.0 L1068.6 606.5 L1074.1 606.9 L1080.2 598.8 L1085.3 600.8 L1089.4 604.5 L1094.5 605.9 L1097.6 603.9 L1100.6 602.8 L1105.7 596.7 L1108.8 595.7 L1108.8 585.5 L8.8 585.5Z" fill="url(#gob)" clip-path="url(#cob)"/>
<path d="M8.8 591.3 L11.4 594.6 L14.7 590.4 L17.5 589.1 L19.9 584.9 L22.1 588.5 L24.9 587.3 L27.6 596.8 L30.4 596.5 L34.1 593.1 L39.6 590.4 L42.0 592.2 L46.0 599.0 L48.3 599.0 L51.6 591.3 L53.4 596.8 L56.2 605.1 L58.9 605.1 L62.6 602.7 L68.1 606.0 L70.9 603.8 L73.7 598.7 L76.4 604.2 L81.0 599.6 L84.7 600.9 L88.4 598.1 L93.9 602.7 L97.6 605.1 L102.2 608.3 L105.9 605.5 L111.4 609.4 L114.2 603.3 L117.9 608.3 L122.5 612.5 L127.1 610.6 L131.7 611.6 L136.3 617.1 L142.2 620.4 L147.3 610.6 L151.9 605.1 L155.6 609.4 L157.5 608.8 L160.6 603.3 L163.9 604.2 L166.7 603.3 L169.4 605.1 L172.2 603.8 L175.0 606.0 L178.3 602.7 L181.4 605.7 L186.0 604.2 L189.7 607.9 L192.4 607.5 L195.2 602.7 L198.0 603.8 L203.5 599.6 L206.3 602.0 L213.6 593.1 L216.4 592.8 L222.8 595.9 L229.3 591.3 L234.8 595.0 L241.3 590.9 L246.8 590.4 L249.5 594.1 L252.7 591.7 L256.0 604.2 L258.7 606.0 L261.5 612.5 L264.3 610.1 L268.9 611.9 L274.6 611.6 L278.3 609.7 L281.0 611.2 L283.8 610.1 L287.5 611.6 L291.2 614.3 L293.9 613.8 L297.6 611.6 L301.3 609.4 L304.1 612.5 L306.8 613.8 L310.5 618.0 L314.2 618.6 L316.0 617.5 L319.4 619.3 L322.5 617.5 L327.1 617.5 L333.5 618.6 L336.3 613.4 L340.0 614.9 L343.7 616.2 L348.3 619.9 L351.0 619.3 L353.8 615.2 L356.6 618.6 L360.2 614.3 L363.9 611.9 L368.5 607.0 L372.2 607.5 L376.8 611.6 L379.6 608.3 L382.3 603.3 L385.1 604.6 L388.8 603.8 L390.6 613.8 L393.8 608.8 L397.1 611.9 L401.7 611.6 L405.4 619.9 L409.0 621.7 L411.8 624.8 L414.6 625.4 L417.0 627.2 L420.1 623.5 L422.9 621.3 L428.4 621.3 L433.9 613.4 L436.7 607.9 L439.4 608.3 L443.1 602.7 L445.9 602.4 L448.6 599.0 L451.4 600.1 L454.2 599.0 L456.9 604.6 L459.7 602.7 L463.4 596.8 L466.1 594.1 L468.9 593.5 L471.7 591.3 L475.3 596.8 L480.9 603.3 L483.6 602.0 L488.2 603.3 L491.9 601.4 L497.4 605.1 L501.1 595.4 L503.9 598.7 L509.4 602.0 L514.9 604.6 L518.6 602.7 L523.2 604.2 L526.9 606.0 L529.3 604.2 L533.4 608.3 L537.0 610.1 L540.0 612.5 L544.6 609.7 L549.2 611.2 L552.9 608.3 L555.7 605.7 L558.4 609.7 L563.9 610.1 L569.5 608.8 L572.2 603.3 L575.9 594.1 L579.6 590.4 L583.3 583.9 L586.0 576.6 L589.7 571.4 L593.4 568.8 L596.2 568.3 L598.6 579.3 L601.7 578.0 L605.4 574.4 L609.1 572.5 L611.8 575.1 L614.6 581.2 L616.4 588.0 L619.2 587.6 L622.0 593.1 L624.7 595.4 L627.5 599.6 L631.2 596.5 L633.9 595.9 L636.3 591.3 L639.4 595.9 L642.2 597.2 L645.9 594.1 L648.7 596.8 L651.4 600.5 L655.1 598.7 L658.8 595.4 L662.5 593.5 L666.2 596.8 L669.8 597.8 L673.5 603.3 L677.2 601.4 L680.0 595.0 L683.6 592.2 L687.3 583.6 L691.0 589.1 L696.5 587.6 L699.3 594.1 L703.9 595.9 L711.3 600.5 L716.8 597.2 L719.6 597.8 L722.3 590.9 L725.1 587.6 L727.8 590.9 L731.5 585.8 L734.3 592.2 L737.1 593.5 L740.7 591.7 L743.5 594.1 L745.9 603.3 L749.9 605.1 L753.6 609.4 L757.3 606.4 L760.1 607.9 L765.6 606.4 L769.3 607.5 L773.0 607.0 L777.6 611.6 L780.3 609.4 L783.1 611.6 L785.9 606.0 L788.6 599.6 L791.4 596.5 L794.5 586.2 L799.7 584.9 L803.4 581.7 L808.5 579.3 L810.0 580.4 L812.0 581.4 L815.1 576.7 L819.2 574.9 L821.2 575.9 L823.9 582.0 L826.3 575.9 L829.4 575.3 L832.4 577.3 L834.9 575.3 L837.5 580.0 L840.6 583.5 L843.7 578.4 L846.3 577.3 L849.8 572.2 L852.8 570.6 L854.9 577.9 L857.9 577.3 L861.0 572.6 L863.4 575.3 L866.7 574.3 L869.6 585.5 L873.2 588.6 L878.3 595.7 L881.4 589.6 L885.5 592.6 L889.5 592.6 L893.2 595.1 L896.7 591.6 L900.8 586.9 L906.9 585.5 L909.9 582.4 L913.0 584.5 L916.1 588.6 L921.2 593.0 L926.3 592.2 L929.9 596.7 L932.4 593.7 L935.4 601.8 L938.5 602.8 L942.6 601.2 L945.6 601.8 L950.7 604.9 L955.8 605.9 L959.3 610.0 L962.6 604.5 L967.0 606.5 L973.2 597.1 L976.2 600.4 L979.3 604.9 L982.3 602.4 L985.4 603.2 L989.5 606.5 L993.6 607.9 L999.7 600.4 L1002.7 604.5 L1005.8 603.9 L1010.9 610.0 L1014.0 613.4 L1017.0 608.5 L1020.1 610.0 L1023.1 604.9 L1025.2 604.5 L1028.2 610.6 L1032.3 611.0 L1035.4 612.0 L1039.5 607.3 L1042.5 612.0 L1046.2 614.0 L1049.6 612.0 L1053.7 611.0 L1057.8 614.0 L1062.9 612.6 L1066.0 611.0 L1068.6 606.5 L1074.1 606.9 L1080.2 598.8 L1085.3 600.8 L1089.4 604.5 L1094.5 605.9 L1097.6 603.9 L1100.6 602.8 L1105.7 596.7 L1108.8 595.7 L1108.8 619.4 L8.8 619.4Z" fill="url(#gos)" clip-path="url(#cos)"/>
<path d="M8.8 584.9C9.5 584.8 11.3 584.2 12.9 584.5C14.5 584.8 16.0 585.9 18.4 586.7C20.9 587.5 24.6 588.9 27.6 589.5C30.7 590.1 32.8 589.8 36.8 590.4C40.8 591.0 47.0 591.9 51.6 593.1C56.2 594.4 59.2 596.5 64.5 597.8C69.7 599.0 76.7 600.1 82.9 600.9C89.0 601.7 96.1 602.3 101.3 602.7C106.5 603.1 109.6 602.6 114.2 603.3C118.8 604.0 124.6 605.7 128.9 607.0C133.2 608.2 136.9 609.8 140.0 610.6C143.0 611.5 144.6 611.6 147.3 611.9C150.1 612.2 153.5 612.7 156.5 612.5C159.6 612.3 162.7 611.3 165.7 610.6C168.8 610.0 171.9 609.6 175.0 608.8C178.0 608.0 181.1 606.7 184.2 606.0C187.2 605.4 190.3 605.1 193.4 604.8C196.4 604.4 199.5 604.5 202.6 604.2C205.6 603.9 208.7 603.5 211.8 602.7C214.9 602.0 217.9 600.6 221.0 599.6C224.1 598.6 227.1 597.7 230.2 596.8C233.3 596.0 236.3 595.2 239.4 594.6C242.5 594.0 246.2 593.3 248.6 593.1C251.1 593.0 252.0 592.9 254.1 593.5C256.3 594.1 258.9 595.8 261.5 596.8C264.2 597.8 267.1 598.2 270.0 599.6C272.9 601.0 276.1 603.4 279.2 605.1C282.3 606.8 285.3 608.6 288.4 609.7C291.5 610.9 294.6 611.5 297.6 611.9C300.7 612.4 303.8 612.2 306.8 612.5C309.9 612.8 313.0 613.4 316.0 613.8C319.1 614.2 322.2 614.5 325.2 614.9C328.3 615.3 331.4 615.8 334.5 616.2C337.5 616.5 340.9 616.9 343.7 617.1C346.4 617.3 348.6 617.5 351.0 617.5C353.5 617.4 355.9 617.1 358.4 616.7C360.9 616.4 362.7 615.8 365.8 615.2C368.8 614.7 373.1 614.2 376.8 613.4C380.5 612.6 384.5 611.4 387.9 610.6C391.2 609.9 394.6 609.1 397.1 608.8C399.5 608.5 400.4 608.3 402.6 608.8C404.7 609.3 407.5 610.6 410.0 611.6C412.4 612.5 414.6 613.3 417.3 614.3C420.1 615.4 423.8 617.2 426.5 618.0C429.3 618.8 431.4 619.1 433.9 619.3C436.4 619.5 438.8 619.6 441.3 618.9C443.7 618.3 446.2 616.6 448.6 615.2C451.1 613.9 453.5 612.2 456.0 610.6C458.5 609.1 460.9 607.6 463.4 606.0C465.8 604.5 468.3 602.6 470.7 601.4C473.2 600.3 475.6 599.5 478.1 599.0C480.6 598.6 481.8 598.6 485.5 598.7C489.2 598.7 495.3 598.8 500.2 599.2C505.1 599.7 510.3 600.9 514.9 601.4C519.5 602.0 524.1 602.1 527.8 602.4C531.5 602.7 535.0 603.0 537.0 603.3C539.1 603.6 538.0 603.5 540.0 604.2C542.0 604.9 546.1 606.7 549.2 607.5C552.3 608.3 555.0 608.9 558.4 609.2C561.8 609.5 566.4 609.7 569.5 609.4C572.5 609.0 574.1 608.3 576.8 607.0C579.6 605.6 583.0 603.7 586.0 601.4C589.1 599.1 592.2 595.9 595.2 593.1C598.3 590.4 601.7 587.3 604.5 584.9C607.2 582.4 609.5 579.7 611.8 578.4C614.1 577.1 616.4 576.9 618.3 576.9C620.1 576.9 620.6 577.2 622.9 578.4C625.2 579.6 629.0 582.2 632.1 583.9C635.2 585.7 638.2 587.4 641.3 589.1C644.4 590.8 647.4 592.8 650.5 594.1C653.6 595.3 656.6 596.1 659.7 596.5C662.8 596.9 665.8 596.2 668.9 596.5C672.0 596.7 675.1 597.8 678.1 597.8C681.2 597.7 684.3 596.6 687.3 595.9C690.4 595.2 693.5 593.8 696.5 593.5C699.6 593.2 702.4 594.1 705.7 594.1C709.1 594.1 713.1 593.6 716.8 593.5C720.5 593.5 724.2 593.6 727.8 593.7C731.5 593.8 735.5 593.9 738.9 594.1C742.3 594.3 745.0 594.5 748.1 595.0C751.2 595.5 754.2 595.9 757.3 596.8C760.4 597.8 763.4 599.1 766.5 600.5C769.6 601.9 772.7 604.0 775.7 605.1C778.8 606.3 782.5 607.2 784.9 607.5C787.4 607.8 788.3 607.6 790.5 607.0C792.6 606.3 795.1 605.4 797.8 603.8C800.6 602.3 805.0 599.1 807.0 597.8C809.1 596.4 808.5 596.9 810.0 595.7C811.5 594.5 814.1 592.3 816.1 590.6C818.2 588.9 819.9 587.2 822.2 585.5C824.6 583.8 827.3 581.6 830.4 580.4C833.5 579.2 837.2 578.9 840.6 578.4C844.0 577.8 847.4 577.6 850.8 577.3C854.2 577.1 857.9 576.7 861.0 576.7C864.0 576.7 866.4 576.8 869.1 577.3C871.9 577.9 874.6 579.1 877.3 580.0C880.0 580.8 882.7 581.3 885.5 582.4C888.2 583.5 890.9 585.3 893.6 586.5C896.3 587.7 899.1 588.9 901.8 589.6C904.5 590.3 906.9 590.6 909.9 590.6C913.0 590.6 916.4 589.7 920.1 589.6C923.9 589.5 928.6 589.5 932.4 590.0C936.1 590.5 939.2 591.3 942.6 592.6C946.0 593.9 949.4 596.2 952.8 597.7C956.2 599.3 959.6 600.9 963.0 601.8C966.4 602.8 969.8 603.2 973.2 603.4C976.6 603.7 980.0 603.1 983.4 603.2C986.8 603.4 990.2 604.1 993.6 604.3C997.0 604.5 1000.4 604.2 1003.8 604.5C1007.2 604.7 1010.6 605.4 1014.0 605.9C1017.4 606.4 1020.8 607.0 1024.2 607.3C1027.6 607.7 1031.0 607.7 1034.4 607.9C1037.8 608.2 1041.2 608.6 1044.6 608.9C1047.9 609.3 1051.3 609.6 1054.7 610.0C1058.1 610.3 1061.5 611.0 1064.9 611.0C1068.3 611.0 1071.7 610.5 1075.1 610.0C1078.5 609.5 1081.9 608.6 1085.3 607.9C1088.7 607.2 1092.5 606.6 1095.5 605.9C1098.6 605.2 1101.5 604.5 1103.7 603.9C1105.9 603.2 1107.9 602.5 1108.8 602.2" fill="none" stroke="#fbe13c" stroke-width="1.3" stroke-linejoin="round" stroke-linecap="round" />
<polyline points="8.8,591.3 11.4,594.6 14.7,590.4 17.5,589.1 19.9,584.9 22.1,588.5 24.9,587.3 27.6,596.8 30.4,596.5 34.1,593.1 39.6,590.4 42.0,592.2 46.0,599.0 48.3,599.0 51.6,591.3 53.4,596.8 56.2,605.1 58.9,605.1 62.6,602.7 68.1,606.0 70.9,603.8 73.7,598.7 76.4,604.2 81.0,599.6 84.7,600.9 88.4,598.1 93.9,602.7 97.6,605.1 102.2,608.3 105.9,605.5 111.4,609.4 114.2,603.3 117.9,608.3 122.5,612.5 127.1,610.6 131.7,611.6 136.3,617.1 142.2,620.4 147.3,610.6 151.9,605.1 155.6,609.4 157.5,608.8 160.6,603.3 163.9,604.2 166.7,603.3 169.4,605.1 172.2,603.8 175.0,606.0 178.3,602.7 181.4,605.7 186.0,604.2 189.7,607.9 192.4,607.5 195.2,602.7 198.0,603.8 203.5,599.6 206.3,602.0 213.6,593.1 216.4,592.8 222.8,595.9 229.3,591.3 234.8,595.0 241.3,590.9 246.8,590.4 249.5,594.1 252.7,591.7 256.0,604.2 258.7,606.0 261.5,612.5 264.3,610.1 268.9,611.9 274.6,611.6 278.3,609.7 281.0,611.2 283.8,610.1 287.5,611.6 291.2,614.3 293.9,613.8 297.6,611.6 301.3,609.4 304.1,612.5 306.8,613.8 310.5,618.0 314.2,618.6 316.0,617.5 319.4,619.3 322.5,617.5 327.1,617.5 333.5,618.6 336.3,613.4 340.0,614.9 343.7,616.2 348.3,619.9 351.0,619.3 353.8,615.2 356.6,618.6 360.2,614.3 363.9,611.9 368.5,607.0 372.2,607.5 376.8,611.6 379.6,608.3 382.3,603.3 385.1,604.6 388.8,603.8 390.6,613.8 393.8,608.8 397.1,611.9 401.7,611.6 405.4,619.9 409.0,621.7 411.8,624.8 414.6,625.4 417.0,627.2 420.1,623.5 422.9,621.3 428.4,621.3 433.9,613.4 436.7,607.9 439.4,608.3 443.1,602.7 445.9,602.4 448.6,599.0 451.4,600.1 454.2,599.0 456.9,604.6 459.7,602.7 463.4,596.8 466.1,594.1 468.9,593.5 471.7,591.3 475.3,596.8 480.9,603.3 483.6,602.0 488.2,603.3 491.9,601.4 497.4,605.1 501.1,595.4 503.9,598.7 509.4,602.0 514.9,604.6 518.6,602.7 523.2,604.2 526.9,606.0 529.3,604.2 533.4,608.3 537.0,610.1 540.0,612.5 544.6,609.7 549.2,611.2 552.9,608.3 555.7,605.7 558.4,609.7 563.9,610.1 569.5,608.8 572.2,603.3 575.9,594.1 579.6,590.4 583.3,583.9 586.0,576.6 589.7,571.4 593.4,568.8 596.2,568.3 598.6,579.3 601.7,578.0 605.4,574.4 609.1,572.5 611.8,575.1 614.6,581.2 616.4,588.0 619.2,587.6 622.0,593.1 624.7,595.4 627.5,599.6 631.2,596.5 633.9,595.9 636.3,591.3 639.4,595.9 642.2,597.2 645.9,594.1 648.7,596.8 651.4,600.5 655.1,598.7 658.8,595.4 662.5,593.5 666.2,596.8 669.8,597.8 673.5,603.3 677.2,601.4 680.0,595.0 683.6,592.2 687.3,583.6 691.0,589.1 696.5,587.6 699.3,594.1 703.9,595.9 711.3,600.5 716.8,597.2 719.6,597.8 722.3,590.9 725.1,587.6 727.8,590.9 731.5,585.8 734.3,592.2 737.1,593.5 740.7,591.7 743.5,594.1 745.9,603.3 749.9,605.1 753.6,609.4 757.3,606.4 760.1,607.9 765.6,606.4 769.3,607.5 773.0,607.0 777.6,611.6 780.3,609.4 783.1,611.6 785.9,606.0 788.6,599.6 791.4,596.5 794.5,586.2 799.7,584.9 803.4,581.7 808.5,579.3 810.0,580.4 812.0,581.4 815.1,576.7 819.2,574.9 821.2,575.9 823.9,582.0 826.3,575.9 829.4,575.3 832.4,577.3 834.9,575.3 837.5,580.0 840.6,583.5 843.7,578.4 846.3,577.3 849.8,572.2 852.8,570.6 854.9,577.9 857.9,577.3 861.0,572.6 863.4,575.3 866.7,574.3 869.6,585.5 873.2,588.6 878.3,595.7 881.4,589.6 885.5,592.6 889.5,592.6 893.2,595.1 896.7,591.6 900.8,586.9 906.9,585.5 909.9,582.4 913.0,584.5 916.1,588.6 921.2,593.0 926.3,592.2 929.9,596.7 932.4,593.7 935.4,601.8 938.5,602.8 942.6,601.2 945.6,601.8 950.7,604.9 955.8,605.9 959.3,610.0 962.6,604.5 967.0,606.5 973.2,597.1 976.2,600.4 979.3,604.9 982.3,602.4 985.4,603.2 989.5,606.5 993.6,607.9 999.7,600.4 1002.7,604.5 1005.8,603.9 1010.9,610.0 1014.0,613.4 1017.0,608.5 1020.1,610.0 1023.1,604.9 1025.2,604.5 1028.2,610.6 1032.3,611.0 1035.4,612.0 1039.5,607.3 1042.5,612.0 1046.2,614.0 1049.6,612.0 1053.7,611.0 1057.8,614.0 1062.9,612.6 1066.0,611.0 1068.6,606.5 1074.1,606.9 1080.2,598.8 1085.3,600.8 1089.4,604.5 1094.5,605.9 1097.6,603.9 1100.6,602.8 1105.7,596.7 1108.8,595.7" fill="none" stroke="#7e57c2" stroke-width="1.2" stroke-linejoin="round" stroke-linecap="round" />
<g clip-path="url(#cmacd)">
<line x1="8.75" y1="684.4" x2="1482" y2="684.4" stroke="#787b86" stroke-opacity="0.5" stroke-width="1.1" stroke-dasharray="4.2 5.046"/>
<path d="M10.00 683.92h1.8v0.48h-1.8zM12.88 683.85h1.8v0.55h-1.8zM18.65 684.01h1.8v0.39h-1.8zM21.53 683.96h1.8v0.44h-1.8zM148.41 683.53h1.8v0.87h-1.8zM151.29 683.41h1.8v0.99h-1.8zM157.06 683.43h1.8v0.97h-1.8zM159.94 683.30h1.8v1.10h-1.8zM165.71 683.32h1.8v1.08h-1.8zM168.59 683.19h1.8v1.21h-1.8zM174.36 683.22h1.8v1.18h-1.8zM177.24 683.16h1.8v1.24h-1.8zM183.01 683.31h1.8v1.09h-1.8zM185.89 683.27h1.8v1.13h-1.8zM191.66 683.41h1.8v0.99h-1.8zM194.54 683.38h1.8v1.02h-1.8zM200.31 683.51h1.8v0.89h-1.8zM203.19 683.48h1.8v0.92h-1.8zM208.96 683.55h1.8v0.85h-1.8zM211.84 683.52h1.8v0.88h-1.8zM217.61 683.58h1.8v0.82h-1.8zM220.50 683.56h1.8v0.84h-1.8zM226.26 683.62h1.8v0.78h-1.8zM229.15 683.60h1.8v0.80h-1.8zM234.91 683.71h1.8v0.69h-1.8zM243.56 683.84h1.8v0.56h-1.8zM321.42 683.82h1.8v0.58h-1.8zM324.30 683.80h1.8v0.60h-1.8zM330.07 683.68h1.8v0.72h-1.8zM332.95 683.66h1.8v0.74h-1.8zM338.72 683.54h1.8v0.86h-1.8zM341.60 683.53h1.8v0.87h-1.8zM347.37 683.39h1.8v1.01h-1.8zM356.02 683.44h1.8v0.96h-1.8zM364.67 683.54h1.8v0.86h-1.8zM373.32 683.64h1.8v0.76h-1.8zM381.97 683.77h1.8v0.63h-1.8zM390.62 683.97h1.8v0.43h-1.8zM422.34 684.05h1.8v0.35h-1.8zM425.22 683.63h1.8v0.77h-1.8zM433.87 683.37h1.8v1.03h-1.8zM442.53 683.01h1.8v1.39h-1.8zM451.18 682.64h1.8v1.76h-1.8zM459.83 682.77h1.8v1.63h-1.8zM468.48 683.19h1.8v1.21h-1.8zM477.13 683.45h1.8v0.95h-1.8zM485.78 683.63h1.8v0.77h-1.8zM494.43 683.80h1.8v0.60h-1.8zM503.08 683.91h1.8v0.49h-1.8zM511.73 684.01h1.8v0.39h-1.8zM580.93 684.05h1.8v0.35h-1.8zM583.82 684.05h1.8v0.35h-1.8zM586.70 683.78h1.8v0.62h-1.8zM589.58 682.58h1.8v1.82h-1.8zM592.47 682.42h1.8v1.98h-1.8zM598.23 681.73h1.8v2.67h-1.8zM606.88 681.46h1.8v2.94h-1.8zM681.86 684.05h1.8v0.35h-1.8zM684.74 682.79h1.8v1.61h-1.8zM693.39 682.78h1.8v1.62h-1.8zM725.11 684.04h1.8v0.36h-1.8zM727.99 683.84h1.8v0.56h-1.8zM777.01 684.05h1.8v0.35h-1.8zM779.89 684.05h1.8v0.35h-1.8zM782.78 684.05h1.8v0.35h-1.8zM785.66 683.92h1.8v0.48h-1.8zM788.55 683.10h1.8v1.30h-1.8zM791.43 683.05h1.8v1.35h-1.8zM794.31 682.68h1.8v1.72h-1.8zM797.20 681.34h1.8v3.06h-1.8zM802.96 681.57h1.8v2.83h-1.8zM805.85 679.89h1.8v4.51h-1.8zM811.61 681.42h1.8v2.98h-1.8zM814.50 680.98h1.8v3.42h-1.8zM817.38 680.52h1.8v3.88h-1.8zM826.03 680.50h1.8v3.90h-1.8zM828.91 679.92h1.8v4.48h-1.8zM831.80 679.67h1.8v4.73h-1.8zM843.33 680.59h1.8v3.81h-1.8zM846.22 679.58h1.8v4.82h-1.8zM849.10 677.81h1.8v6.59h-1.8zM851.98 676.49h1.8v7.91h-1.8zM854.87 676.47h1.8v7.93h-1.8zM857.75 676.11h1.8v8.29h-1.8zM860.63 674.53h1.8v9.87h-1.8zM863.52 674.39h1.8v10.01h-1.8zM866.40 673.71h1.8v10.69h-1.8zM906.77 683.33h1.8v1.07h-1.8zM909.65 682.39h1.8v2.01h-1.8zM912.54 682.07h1.8v2.33h-1.8zM1068.24 683.35h1.8v1.05h-1.8zM1071.13 682.64h1.8v1.76h-1.8zM1074.01 681.92h1.8v2.48h-1.8zM1076.89 681.20h1.8v3.20h-1.8zM1079.78 680.47h1.8v3.93h-1.8zM1082.66 679.96h1.8v4.44h-1.8zM1097.08 681.99h1.8v2.41h-1.8zM1099.96 681.86h1.8v2.54h-1.8zM1102.85 681.42h1.8v2.98h-1.8zM1105.73 681.02h1.8v3.38h-1.8zM1108.61 680.70h1.8v3.70h-1.8z" fill="#0f9b8a"/>
<path d="M15.77 684.05h1.8v0.35h-1.8zM24.42 684.05h1.8v0.35h-1.8zM27.30 684.05h1.8v0.35h-1.8zM154.18 683.73h1.8v0.67h-1.8zM162.83 683.66h1.8v0.74h-1.8zM171.48 683.59h1.8v0.81h-1.8zM180.13 683.62h1.8v0.78h-1.8zM188.78 683.69h1.8v0.71h-1.8zM197.43 683.76h1.8v0.64h-1.8zM206.08 683.81h1.8v0.59h-1.8zM214.73 683.83h1.8v0.57h-1.8zM223.38 683.86h1.8v0.54h-1.8zM232.03 683.90h1.8v0.50h-1.8zM237.80 683.74h1.8v0.66h-1.8zM240.68 683.99h1.8v0.41h-1.8zM246.45 683.87h1.8v0.53h-1.8zM249.33 684.05h1.8v0.35h-1.8zM252.21 684.05h1.8v0.35h-1.8zM327.19 683.96h1.8v0.44h-1.8zM335.84 683.87h1.8v0.53h-1.8zM344.49 683.77h1.8v0.63h-1.8zM350.25 683.43h1.8v0.97h-1.8zM353.14 683.75h1.8v0.65h-1.8zM358.90 683.53h1.8v0.87h-1.8zM361.79 683.82h1.8v0.58h-1.8zM367.55 683.62h1.8v0.78h-1.8zM370.44 683.88h1.8v0.52h-1.8zM376.20 683.72h1.8v0.68h-1.8zM379.09 683.95h1.8v0.45h-1.8zM384.86 683.88h1.8v0.52h-1.8zM387.74 684.05h1.8v0.35h-1.8zM393.51 684.05h1.8v0.35h-1.8zM428.11 683.63h1.8v0.77h-1.8zM430.99 683.79h1.8v0.61h-1.8zM436.76 683.41h1.8v0.99h-1.8zM439.64 683.62h1.8v0.78h-1.8zM445.41 683.02h1.8v1.38h-1.8zM448.29 683.29h1.8v1.11h-1.8zM454.06 682.88h1.8v1.52h-1.8zM456.94 683.31h1.8v1.09h-1.8zM462.71 683.10h1.8v1.30h-1.8zM465.59 683.53h1.8v0.87h-1.8zM471.36 683.47h1.8v0.93h-1.8zM474.24 683.75h1.8v0.65h-1.8zM480.01 683.63h1.8v0.77h-1.8zM482.89 683.87h1.8v0.53h-1.8zM488.66 683.79h1.8v0.61h-1.8zM491.54 683.98h1.8v0.42h-1.8zM497.31 683.92h1.8v0.48h-1.8zM500.20 684.05h1.8v0.35h-1.8zM505.96 684.01h1.8v0.39h-1.8zM508.85 684.05h1.8v0.35h-1.8zM514.61 684.05h1.8v0.35h-1.8zM595.35 682.73h1.8v1.67h-1.8zM601.12 682.20h1.8v2.20h-1.8zM604.00 682.53h1.8v1.87h-1.8zM609.77 682.14h1.8v2.26h-1.8zM612.65 682.93h1.8v1.47h-1.8zM615.54 683.17h1.8v1.23h-1.8zM618.42 684.05h1.8v0.35h-1.8zM687.62 683.19h1.8v1.21h-1.8zM690.51 683.33h1.8v1.07h-1.8zM696.27 683.19h1.8v1.21h-1.8zM699.16 683.76h1.8v0.64h-1.8zM702.04 684.05h1.8v0.35h-1.8zM704.92 684.05h1.8v0.35h-1.8zM730.88 683.96h1.8v0.44h-1.8zM733.76 684.02h1.8v0.38h-1.8zM736.64 684.05h1.8v0.35h-1.8zM800.08 681.83h1.8v2.57h-1.8zM808.73 681.49h1.8v2.91h-1.8zM820.26 680.61h1.8v3.79h-1.8zM823.15 681.36h1.8v3.04h-1.8zM834.68 679.87h1.8v4.53h-1.8zM837.56 680.77h1.8v3.63h-1.8zM840.45 681.38h1.8v3.02h-1.8zM869.28 676.28h1.8v8.12h-1.8zM872.17 679.51h1.8v4.89h-1.8zM875.05 683.09h1.8v1.31h-1.8zM915.42 683.21h1.8v1.19h-1.8zM1085.55 680.03h1.8v4.37h-1.8zM1088.43 680.58h1.8v3.82h-1.8zM1091.31 681.30h1.8v3.10h-1.8zM1094.20 682.02h1.8v2.38h-1.8z" fill="#b2dfdb"/>
<path d="M30.18 684.40h1.8v1.03h-1.8zM35.95 684.40h1.8v1.01h-1.8zM38.84 684.40h1.8v1.29h-1.8zM44.60 684.40h1.8v1.23h-1.8zM47.49 684.40h1.8v1.51h-1.8zM53.25 684.40h1.8v1.37h-1.8zM56.14 684.40h1.8v1.66h-1.8zM61.90 684.40h1.8v1.50h-1.8zM64.79 684.40h1.8v1.82h-1.8zM70.55 684.40h1.8v1.71h-1.8zM73.44 684.40h1.8v2.08h-1.8zM82.09 684.40h1.8v0.48h-1.8zM87.85 684.40h1.8v0.42h-1.8zM90.74 684.40h1.8v0.48h-1.8zM96.51 684.40h1.8v0.72h-1.8zM99.39 684.40h1.8v1.20h-1.8zM105.16 684.40h1.8v1.17h-1.8zM108.04 684.40h1.8v1.40h-1.8zM113.81 684.40h1.8v1.36h-1.8zM116.69 684.40h1.8v1.60h-1.8zM122.46 684.40h1.8v1.55h-1.8zM125.34 684.40h1.8v1.74h-1.8zM131.11 684.40h1.8v1.40h-1.8zM133.99 684.40h1.8v1.48h-1.8zM139.76 684.40h1.8v1.18h-1.8zM142.64 684.40h1.8v1.22h-1.8zM255.10 684.40h1.8v1.13h-1.8zM260.86 684.40h1.8v1.44h-1.8zM263.75 684.40h1.8v1.62h-1.8zM269.52 684.40h1.8v1.66h-1.8zM278.17 684.40h1.8v1.18h-1.8zM286.82 684.40h1.8v0.98h-1.8zM295.47 684.40h1.8v1.48h-1.8zM298.35 684.40h1.8v1.52h-1.8zM304.12 684.40h1.8v1.67h-1.8zM307.00 684.40h1.8v1.70h-1.8zM312.77 684.40h1.8v1.63h-1.8zM396.39 684.40h1.8v0.35h-1.8zM399.27 684.40h1.8v1.30h-1.8zM402.16 684.40h1.8v1.46h-1.8zM407.92 684.40h1.8v2.22h-1.8zM416.57 684.40h1.8v1.92h-1.8zM517.50 684.40h1.8v0.55h-1.8zM520.38 684.40h1.8v0.94h-1.8zM529.03 684.40h1.8v1.19h-1.8zM537.68 684.40h1.8v1.25h-1.8zM546.33 684.40h1.8v1.04h-1.8zM554.98 684.40h1.8v0.69h-1.8zM563.63 684.40h1.8v0.41h-1.8zM572.28 684.40h1.8v0.35h-1.8zM621.30 684.40h1.8v0.35h-1.8zM624.19 684.40h1.8v1.61h-1.8zM632.84 684.40h1.8v1.69h-1.8zM641.49 684.40h1.8v1.78h-1.8zM650.14 684.40h1.8v1.85h-1.8zM658.79 684.40h1.8v1.81h-1.8zM667.44 684.40h1.8v1.77h-1.8zM676.09 684.40h1.8v1.74h-1.8zM707.81 684.40h1.8v0.83h-1.8zM710.69 684.40h1.8v1.24h-1.8zM719.34 684.40h1.8v1.25h-1.8zM739.53 684.40h1.8v0.35h-1.8zM742.41 684.40h1.8v0.55h-1.8zM745.29 684.40h1.8v1.42h-1.8zM748.18 684.40h1.8v1.57h-1.8zM751.06 684.40h1.8v1.80h-1.8zM753.94 684.40h1.8v2.95h-1.8zM877.93 684.40h1.8v0.85h-1.8zM880.82 684.40h1.8v1.71h-1.8zM883.70 684.40h1.8v2.36h-1.8zM886.58 684.40h1.8v3.22h-1.8zM889.47 684.40h1.8v3.87h-1.8zM892.35 684.40h1.8v4.59h-1.8zM895.23 684.40h1.8v4.68h-1.8zM918.30 684.40h1.8v0.35h-1.8zM921.19 684.40h1.8v2.07h-1.8zM924.07 684.40h1.8v2.77h-1.8zM926.95 684.40h1.8v3.88h-1.8zM929.84 684.40h1.8v4.95h-1.8zM935.60 684.40h1.8v5.90h-1.8zM938.49 684.40h1.8v6.74h-1.8zM941.37 684.40h1.8v7.03h-1.8zM944.25 684.40h1.8v7.45h-1.8zM947.14 684.40h1.8v8.02h-1.8zM950.02 684.40h1.8v8.15h-1.8zM955.79 684.40h1.8v8.04h-1.8zM958.67 684.40h1.8v8.53h-1.8zM984.62 684.40h1.8v1.04h-1.8zM987.51 684.40h1.8v1.61h-1.8zM990.39 684.40h1.8v2.18h-1.8zM993.27 684.40h1.8v2.76h-1.8zM1004.81 684.40h1.8v0.98h-1.8zM1007.69 684.40h1.8v1.59h-1.8zM1010.57 684.40h1.8v2.59h-1.8zM1013.46 684.40h1.8v3.53h-1.8zM1019.23 684.40h1.8v3.55h-1.8zM1027.88 684.40h1.8v1.89h-1.8zM1030.76 684.40h1.8v2.39h-1.8zM1042.29 684.40h1.8v2.20h-1.8zM1045.18 684.40h1.8v2.67h-1.8z" fill="#fa4350"/>
<path d="M33.07 684.40h1.8v0.72h-1.8zM41.72 684.40h1.8v0.89h-1.8zM50.37 684.40h1.8v1.00h-1.8zM59.02 684.40h1.8v1.10h-1.8zM67.67 684.40h1.8v1.23h-1.8zM76.32 684.40h1.8v1.31h-1.8zM79.20 684.40h1.8v0.41h-1.8zM84.97 684.40h1.8v0.35h-1.8zM93.62 684.40h1.8v0.35h-1.8zM102.27 684.40h1.8v0.81h-1.8zM110.92 684.40h1.8v0.94h-1.8zM119.57 684.40h1.8v1.07h-1.8zM128.22 684.40h1.8v1.06h-1.8zM136.87 684.40h1.8v0.90h-1.8zM145.52 684.40h1.8v0.35h-1.8zM257.98 684.40h1.8v0.86h-1.8zM266.63 684.40h1.8v1.18h-1.8zM272.40 684.40h1.8v1.51h-1.8zM275.28 684.40h1.8v0.89h-1.8zM281.05 684.40h1.8v1.09h-1.8zM283.93 684.40h1.8v0.69h-1.8zM289.70 684.40h1.8v0.92h-1.8zM292.58 684.40h1.8v0.74h-1.8zM301.23 684.40h1.8v1.06h-1.8zM309.88 684.40h1.8v1.18h-1.8zM315.65 684.40h1.8v1.27h-1.8zM318.53 684.40h1.8v0.64h-1.8zM405.04 684.40h1.8v1.24h-1.8zM410.81 684.40h1.8v2.04h-1.8zM413.69 684.40h1.8v1.34h-1.8zM419.46 684.40h1.8v1.39h-1.8zM523.26 684.40h1.8v0.86h-1.8zM526.15 684.40h1.8v0.71h-1.8zM531.91 684.40h1.8v1.06h-1.8zM534.80 684.40h1.8v0.85h-1.8zM540.56 684.40h1.8v0.97h-1.8zM543.45 684.40h1.8v0.71h-1.8zM549.21 684.40h1.8v0.80h-1.8zM552.10 684.40h1.8v0.53h-1.8zM557.87 684.40h1.8v0.45h-1.8zM560.75 684.40h1.8v0.35h-1.8zM566.52 684.40h1.8v0.35h-1.8zM569.40 684.40h1.8v0.35h-1.8zM575.17 684.40h1.8v0.35h-1.8zM578.05 684.40h1.8v0.35h-1.8zM627.07 684.40h1.8v1.28h-1.8zM629.95 684.40h1.8v1.09h-1.8zM635.72 684.40h1.8v1.34h-1.8zM638.60 684.40h1.8v1.15h-1.8zM644.37 684.40h1.8v1.40h-1.8zM647.25 684.40h1.8v1.21h-1.8zM653.02 684.40h1.8v1.41h-1.8zM655.90 684.40h1.8v1.20h-1.8zM661.67 684.40h1.8v1.37h-1.8zM664.55 684.40h1.8v1.18h-1.8zM670.32 684.40h1.8v1.34h-1.8zM673.21 684.40h1.8v1.16h-1.8zM678.97 684.40h1.8v0.57h-1.8zM713.57 684.40h1.8v0.92h-1.8zM716.46 684.40h1.8v0.83h-1.8zM722.22 684.40h1.8v0.35h-1.8zM756.83 684.40h1.8v1.99h-1.8zM759.71 684.40h1.8v1.62h-1.8zM762.59 684.40h1.8v1.47h-1.8zM765.48 684.40h1.8v0.59h-1.8zM768.36 684.40h1.8v0.35h-1.8zM771.24 684.40h1.8v0.35h-1.8zM774.13 684.40h1.8v0.35h-1.8zM898.12 684.40h1.8v3.09h-1.8zM901.00 684.40h1.8v1.62h-1.8zM903.89 684.40h1.8v0.35h-1.8zM932.72 684.40h1.8v4.75h-1.8zM952.90 684.40h1.8v7.86h-1.8zM961.56 684.40h1.8v7.94h-1.8zM964.44 684.40h1.8v7.17h-1.8zM967.32 684.40h1.8v6.40h-1.8zM970.21 684.40h1.8v4.24h-1.8zM973.09 684.40h1.8v2.51h-1.8zM975.97 684.40h1.8v1.41h-1.8zM978.86 684.40h1.8v1.11h-1.8zM981.74 684.40h1.8v0.85h-1.8zM996.16 684.40h1.8v2.11h-1.8zM999.04 684.40h1.8v1.37h-1.8zM1001.92 684.40h1.8v0.93h-1.8zM1016.34 684.40h1.8v3.53h-1.8zM1022.11 684.40h1.8v2.45h-1.8zM1024.99 684.40h1.8v1.40h-1.8zM1033.64 684.40h1.8v2.27h-1.8zM1036.53 684.40h1.8v1.69h-1.8zM1039.41 684.40h1.8v1.57h-1.8zM1048.06 684.40h1.8v2.65h-1.8zM1050.94 684.40h1.8v2.62h-1.8zM1053.83 684.40h1.8v2.53h-1.8zM1056.71 684.40h1.8v2.32h-1.8zM1059.59 684.40h1.8v1.98h-1.8zM1062.48 684.40h1.8v0.98h-1.8zM1065.36 684.40h1.8v0.35h-1.8z" fill="#ffcdd2"/>
<path d="M8.8 680.6C11.4 680.5 16.2 679.6 23.9 679.7C31.7 679.9 46.3 680.9 55.2 681.5C64.1 682.2 68.1 683.1 77.3 683.8C86.6 684.4 101.9 685.0 110.5 685.6C119.1 686.2 123.4 686.8 128.9 687.4C134.4 688.1 138.7 689.3 143.6 689.5C148.6 689.7 153.2 688.9 158.4 688.5C163.6 688.2 169.1 687.8 175.0 687.4C180.8 687.1 187.8 686.8 193.4 686.3C198.9 685.9 203.5 685.4 208.1 684.9C212.7 684.4 215.8 683.8 221.0 683.4C226.2 682.9 234.2 682.3 239.4 682.1C244.6 681.9 248.6 681.6 252.3 681.9C256.0 682.2 258.6 683.0 261.5 683.8C264.5 684.5 265.5 685.8 270.0 686.3C274.5 686.9 282.3 686.8 288.4 687.1C294.6 687.3 300.7 687.7 306.8 687.8C313.0 688.0 319.1 688.1 325.2 688.0C331.4 687.9 337.5 687.7 343.7 687.4C349.8 687.2 355.9 686.9 362.1 686.7C368.2 686.5 374.4 686.1 380.5 686.0C386.6 685.8 394.0 685.5 398.9 685.8C403.8 686.0 406.0 686.9 410.0 687.4C414.0 688.0 418.6 688.9 422.9 688.9C427.2 689.0 431.8 688.3 435.7 687.8C439.7 687.3 442.2 686.7 446.8 686.2C451.4 685.6 459.1 684.7 463.4 684.3C467.7 683.9 468.0 683.8 472.6 683.8C477.2 683.7 484.9 684.1 491.0 684.1C497.1 684.2 503.3 683.8 509.4 683.9C515.5 684.0 522.9 684.5 527.8 684.7C532.7 684.9 536.8 685.1 538.9 685.2C540.9 685.3 536.7 685.2 540.0 685.2C543.3 685.2 555.1 685.3 558.4 685.2C561.7 685.2 556.5 685.1 560.0 685.0C563.5 684.9 575.2 684.9 579.5 684.7C583.9 684.4 583.3 684.3 586.0 683.4C588.8 682.5 592.6 680.4 595.8 679.3C599.1 678.2 602.9 677.5 605.6 676.9C608.3 676.2 609.6 675.6 612.1 675.6C614.5 675.6 617.5 676.2 620.2 676.9C622.9 677.5 624.3 678.7 628.4 679.3C632.4 679.9 639.8 680.2 644.6 680.6C649.5 681.0 652.8 681.4 657.7 681.7C662.5 682.1 669.6 682.5 673.9 682.6C678.3 682.6 681.0 682.6 683.7 682.2C686.4 681.8 687.8 680.5 690.2 680.1C692.6 679.7 695.6 679.5 698.3 679.6C701.1 679.7 703.0 680.2 706.5 680.6C710.0 681.0 715.7 681.8 719.5 681.7C723.3 681.7 725.5 680.5 729.3 680.1C733.1 679.8 739.0 679.4 742.3 679.6C745.5 679.9 746.1 680.8 748.8 681.7C751.5 682.6 754.8 684.3 758.6 685.0C762.4 685.7 767.2 685.7 771.6 686.1C775.9 686.5 781.4 687.4 784.6 687.4C787.9 687.4 788.9 686.9 791.1 686.1C793.3 685.3 796.2 683.3 797.6 682.6C799.1 681.8 798.7 682.0 800.0 681.4C801.3 680.7 803.7 679.4 805.5 678.6C807.4 677.8 808.7 677.8 811.1 676.7C813.5 675.6 817.8 672.8 819.9 672.0C822.0 671.1 822.3 672.3 823.8 671.6C825.3 671.0 827.0 669.1 828.8 668.1C830.5 667.1 832.3 666.1 834.3 665.7C836.3 665.3 838.9 666.2 841.0 665.7C843.0 665.1 844.6 664.2 846.5 662.6C848.3 660.9 850.5 657.4 852.0 655.9C853.5 654.4 854.4 654.2 855.3 653.7C856.3 653.2 856.6 654.1 857.6 653.2C858.5 652.2 859.8 649.5 860.9 648.2C862.0 646.9 863.1 646.6 864.2 645.4C865.3 644.3 866.4 641.9 867.5 641.3C868.6 640.8 869.7 641.5 870.8 642.1C871.9 642.7 873.0 643.7 874.2 644.9C875.3 646.0 876.0 647.7 877.5 648.7C879.0 649.7 881.2 650.0 883.0 650.9C884.9 651.9 886.5 653.0 888.5 654.3C890.6 655.6 893.3 658.1 895.2 658.7C897.0 659.2 898.0 658.1 899.6 657.6C901.3 657.0 903.5 656.2 905.1 655.4C906.8 654.5 908.3 653.2 909.6 652.6C910.9 652.0 911.6 651.5 912.9 651.5C914.2 651.5 915.8 652.1 917.3 652.8C918.8 653.6 920.3 655.0 921.7 655.9C923.2 656.8 924.7 657.2 926.2 658.1C927.7 659.1 929.5 661.0 930.6 661.7C931.7 662.3 931.5 661.0 932.8 662.0C934.1 663.0 936.5 665.9 938.4 667.5C940.2 669.2 942.0 670.3 943.9 672.0C945.7 673.6 947.6 675.9 949.4 677.5C951.3 679.1 953.2 680.2 955.0 681.4C956.7 682.6 957.8 683.7 960.0 684.7C962.2 685.7 965.7 687.6 968.3 687.6C970.9 687.6 973.0 685.1 975.6 684.7C978.2 684.4 980.9 684.7 984.0 685.5C987.1 686.3 991.4 689.0 994.4 689.4C997.4 689.8 999.6 688.2 1001.7 688.1C1003.8 688.0 1004.8 687.8 1006.9 688.6C1009.0 689.4 1012.0 691.9 1014.2 692.8C1016.5 693.7 1018.5 694.2 1020.4 694.2C1022.3 694.2 1023.5 692.8 1025.6 693.1C1027.7 693.4 1030.6 695.4 1032.9 695.9C1035.2 696.4 1037.1 695.5 1039.2 695.9C1041.3 696.3 1043.0 697.8 1045.4 698.5C1047.8 699.2 1051.4 699.8 1053.8 700.1C1056.2 700.5 1057.9 700.7 1060.0 700.6C1062.1 700.5 1063.9 700.2 1066.3 699.4C1068.7 698.6 1071.8 697.3 1074.6 695.9C1077.4 694.5 1080.8 691.8 1082.9 690.7C1085.0 689.6 1085.0 689.7 1087.1 689.4C1089.2 689.1 1093.0 689.4 1095.4 689.0C1097.8 688.6 1099.4 688.1 1101.7 687.3C1104.0 686.5 1107.8 684.7 1109.0 684.2" fill="none" stroke="#2962ff" stroke-width="1.25" stroke-linejoin="round" stroke-linecap="round" />
<path d="M8.8 680.3C11.4 680.2 16.2 680.0 23.9 680.1C31.7 680.2 46.3 680.5 55.2 681.0C64.1 681.5 68.1 682.4 77.3 683.0C86.6 683.7 101.9 684.3 110.5 684.9C119.1 685.4 122.8 685.7 128.9 686.3C135.1 686.9 141.2 688.3 147.3 688.5C153.5 688.8 159.6 688.1 165.7 687.8C171.9 687.5 178.0 687.3 184.2 686.9C190.3 686.5 196.4 686.1 202.6 685.6C208.7 685.1 214.9 684.3 221.0 683.8C227.1 683.2 234.2 682.8 239.4 682.5C244.6 682.1 248.6 681.7 252.3 681.7C256.0 681.8 258.6 682.2 261.5 682.8C264.5 683.5 265.5 685.0 270.0 685.6C274.5 686.2 282.3 686.2 288.4 686.5C294.6 686.8 300.7 687.0 306.8 687.3C313.0 687.5 319.1 687.7 325.2 687.8C331.4 687.9 337.5 687.7 343.7 687.6C349.8 687.5 355.9 687.3 362.1 687.1C368.2 686.9 374.4 686.6 380.5 686.3C386.6 686.1 394.0 685.8 398.9 685.8C403.8 685.8 406.0 686.1 410.0 686.5C414.0 686.9 418.6 687.9 422.9 688.2C427.2 688.5 431.8 688.4 435.7 688.2C439.7 688.0 442.2 687.6 446.8 687.1C451.4 686.6 459.1 685.7 463.4 685.2C467.7 684.8 468.0 684.5 472.6 684.3C477.2 684.1 484.9 684.2 491.0 684.1C497.1 684.1 503.3 683.9 509.4 683.9C515.5 684.0 522.9 684.3 527.8 684.5C532.7 684.7 536.8 684.9 538.9 685.0C540.9 685.2 536.5 685.2 540.0 685.2C543.5 685.2 553.4 685.2 560.0 685.2C566.6 685.1 574.6 685.1 579.5 684.8C584.4 684.5 586.0 684.0 589.3 683.4C592.6 682.8 595.3 682.1 599.1 681.2C602.9 680.4 608.3 679.1 612.1 678.5C615.9 677.8 618.6 677.3 621.8 677.3C625.1 677.3 627.8 678.1 631.6 678.5C635.4 678.9 640.3 679.4 644.6 679.8C649.0 680.2 652.8 680.6 657.7 680.9C662.5 681.2 669.6 681.5 673.9 681.7C678.3 682.0 680.4 682.3 683.7 682.2C687.0 682.1 690.2 681.5 693.5 681.2C696.7 681.0 699.4 680.5 703.2 680.4C707.0 680.4 711.9 680.9 716.2 680.9C720.6 681.0 724.9 680.8 729.3 680.6C733.6 680.4 738.5 679.7 742.3 679.8C746.1 679.8 748.3 680.3 752.1 680.9C755.9 681.5 760.7 682.6 765.1 683.4C769.4 684.1 774.8 685.0 778.1 685.5C781.4 685.9 782.2 686.2 784.6 686.1C787.1 686.1 790.3 685.5 792.7 685.0C795.2 684.5 798.0 683.5 799.3 683.4C800.5 683.2 798.8 684.5 800.0 684.1C801.2 683.8 804.4 682.3 806.6 681.4C808.9 680.5 810.7 679.6 813.3 678.6C815.9 677.6 819.2 676.5 822.1 675.3C825.1 674.1 828.2 672.7 831.0 671.6C833.8 670.6 836.2 670.0 838.7 669.2C841.3 668.4 844.1 668.0 846.5 667.0C848.9 666.0 851.1 664.3 853.1 663.1C855.2 661.9 856.8 661.1 858.7 659.8C860.5 658.5 862.5 656.8 864.2 655.4C865.9 653.9 867.3 652.0 868.6 650.9C869.9 649.9 870.7 649.5 871.9 649.1C873.2 648.6 874.7 648.2 876.4 648.2C878.0 648.1 880.1 648.4 881.9 648.7C883.7 649.1 885.4 649.7 887.4 650.4C889.5 651.1 892.0 652.4 894.1 653.2C896.1 653.9 897.8 654.4 899.6 654.8C901.5 655.2 903.3 655.5 905.1 655.4C907.0 655.3 908.8 654.5 910.7 654.3C912.5 654.0 914.4 653.8 916.2 653.7C918.1 653.7 919.9 653.7 921.7 653.9C923.6 654.2 925.4 654.8 927.3 655.4C929.1 656.0 931.0 656.7 932.8 657.6C934.7 658.5 936.5 659.7 938.4 660.9C940.2 662.1 942.0 663.4 943.9 664.8C945.7 666.2 947.6 667.7 949.4 669.2C951.3 670.7 953.2 672.5 955.0 673.6C956.7 674.8 957.6 674.7 960.0 676.1C962.4 677.5 965.9 680.5 969.4 681.9C972.9 683.2 976.6 683.4 980.8 684.2C985.0 685.0 990.0 686.0 994.4 686.6C998.8 687.2 1002.9 687.0 1006.9 687.6C1010.9 688.2 1014.0 689.2 1018.3 690.2C1022.6 691.2 1028.7 692.4 1032.9 693.3C1037.1 694.2 1039.8 694.7 1043.3 695.4C1046.8 696.1 1050.3 696.9 1053.8 697.5C1057.3 698.1 1061.8 698.8 1064.2 699.1C1066.6 699.4 1066.6 699.5 1068.3 699.4C1070.0 699.3 1071.8 699.1 1074.6 698.3C1077.4 697.5 1081.5 695.6 1085.0 694.4C1088.5 693.2 1092.3 692.1 1095.4 691.3C1098.5 690.5 1101.5 690.0 1103.8 689.4C1106.1 688.8 1108.1 688.1 1109.0 687.9" fill="none" stroke="#ff6d00" stroke-width="1.25" stroke-linejoin="round" stroke-linecap="round" />
</g>
<line x1="8" y1="560.3" x2="1528" y2="560.3" stroke="#e0e3eb" stroke-width="1"/>
<line x1="8" y1="634.2" x2="1528" y2="634.2" stroke="#e0e3eb" stroke-width="1"/>
<rect x="8.5" y="22.5" width="1519.0" height="708.0" fill="none" stroke="#e0e3eb" stroke-width="1"/>
<clipPath id="c95"><rect x="1483" y="50.4" width="44" height="12"/></clipPath>
<g clip-path="url(#c95)">
<text filter="url(#nf)" x="1489.0" y="53.4" font-size="11.3" fill="#131722" textLength="24.7" lengthAdjust="spacingAndGlyphs" stroke="#131722" stroke-width="0.18" >9.500</text>
</g>
<text filter="url(#nf)" x="1489.0" y="80.3" font-size="11.3" fill="#131722" textLength="24.7" lengthAdjust="spacingAndGlyphs" stroke="#131722" stroke-width="0.18" >9.000</text>
<text filter="url(#nf)" x="1489.0" y="107.1" font-size="11.3" fill="#131722" textLength="24.7" lengthAdjust="spacingAndGlyphs" stroke="#131722" stroke-width="0.18" >8.500</text>
<text filter="url(#nf)" x="1489.0" y="134.0" font-size="11.3" fill="#131722" textLength="24.7" lengthAdjust="spacingAndGlyphs" stroke="#131722" stroke-width="0.18" >8.000</text>
<text filter="url(#nf)" x="1489.0" y="160.9" font-size="11.3" fill="#131722" textLength="24.7" lengthAdjust="spacingAndGlyphs" stroke="#131722" stroke-width="0.18" >7.500</text>
<text filter="url(#nf)" x="1489.0" y="187.7" font-size="11.3" fill="#131722" textLength="24.7" lengthAdjust="spacingAndGlyphs" stroke="#131722" stroke-width="0.18" >7.000</text>
<text filter="url(#nf)" x="1489.0" y="214.6" font-size="11.3" fill="#131722" textLength="24.7" lengthAdjust="spacingAndGlyphs" stroke="#131722" stroke-width="0.18" >6.500</text>
<text filter="url(#nf)" x="1489.0" y="241.4" font-size="11.3" fill="#131722" textLength="24.7" lengthAdjust="spacingAndGlyphs" stroke="#131722" stroke-width="0.18" >6.000</text>
<text filter="url(#nf)" x="1489.0" y="268.3" font-size="11.3" fill="#131722" textLength="24.7" lengthAdjust="spacingAndGlyphs" stroke="#131722" stroke-width="0.18" >5.500</text>
<text filter="url(#nf)" x="1489.0" y="295.2" font-size="11.3" fill="#131722" textLength="24.7" lengthAdjust="spacingAndGlyphs" stroke="#131722" stroke-width="0.18" >5.000</text>
<text filter="url(#nf)" x="1489.0" y="322.0" font-size="11.3" fill="#131722" textLength="24.7" lengthAdjust="spacingAndGlyphs" stroke="#131722" stroke-width="0.18" >4.500</text>
<text filter="url(#nf)" x="1489.0" y="348.9" font-size="11.3" fill="#131722" textLength="24.7" lengthAdjust="spacingAndGlyphs" stroke="#131722" stroke-width="0.18" >4.000</text>
<text filter="url(#nf)" x="1489.0" y="375.7" font-size="11.3" fill="#131722" textLength="24.7" lengthAdjust="spacingAndGlyphs" stroke="#131722" stroke-width="0.18" >3.500</text>
<text filter="url(#nf)" x="1489.0" y="402.6" font-size="11.3" fill="#131722" textLength="24.7" lengthAdjust="spacingAndGlyphs" stroke="#131722" stroke-width="0.18" >3.000</text>
<text filter="url(#nf)" x="1489.0" y="429.5" font-size="11.3" fill="#131722" textLength="24.7" lengthAdjust="spacingAndGlyphs" stroke="#131722" stroke-width="0.18" >2.500</text>
<text filter="url(#nf)" x="1489.0" y="456.3" font-size="11.3" fill="#131722" textLength="24.7" lengthAdjust="spacingAndGlyphs" stroke="#131722" stroke-width="0.18" >2.000</text>
<text filter="url(#nf)" x="1489.0" y="483.2" font-size="11.3" fill="#131722" textLength="24.7" lengthAdjust="spacingAndGlyphs" stroke="#131722" stroke-width="0.18" >1.500</text>
<text filter="url(#nf)" x="1489.0" y="510.0" font-size="11.3" fill="#131722" textLength="24.7" lengthAdjust="spacingAndGlyphs" stroke="#131722" stroke-width="0.18" >1.000</text>
<text filter="url(#nf)" x="1489.0" y="536.9" font-size="11.3" fill="#131722" textLength="24.7" lengthAdjust="spacingAndGlyphs" stroke="#131722" stroke-width="0.18" >0.500</text>
<rect x="1485.5" y="26" width="39" height="21.5" rx="3.5" fill="#fff" stroke="#e0e3eb" stroke-width="1"/>
<text filter="url(#nf)" x="1493.2" y="40.6" font-size="10.5" fill="#131722" textLength="23.2" lengthAdjust="spacingAndGlyphs" stroke="#131722" stroke-width="0.18" >USDT</text>
<rect x="1453.7" y="160.7" width="27.5" height="14" fill="#e3effd"/>
<rect x="1482" y="160.7" width="36" height="14" fill="#e3effd"/>
<text filter="url(#nf)" x="1457.6" y="171.4" font-size="10.5" fill="#131722" textLength="20.0" lengthAdjust="spacingAndGlyphs" stroke="#131722" stroke-width="0.18" >High</text>
<text filter="url(#nf)" x="1489.0" y="171.3" font-size="11.3" fill="#131722" textLength="24.7" lengthAdjust="spacingAndGlyphs" stroke="#131722" stroke-width="0.18" >7.300</text>
<rect x="1453.7" y="511.0" width="27.5" height="14" fill="#e3effd"/>
<rect x="1482" y="511.0" width="36" height="14" fill="#e3effd"/>
<text filter="url(#nf)" x="1459.2" y="521.7" font-size="10.5" fill="#131722" textLength="17.6" lengthAdjust="spacingAndGlyphs" stroke="#131722" stroke-width="0.18" >Low</text>
<text filter="url(#nf)" x="1489.0" y="521.6" font-size="11.3" fill="#131722" textLength="24.7" lengthAdjust="spacingAndGlyphs" stroke="#131722" stroke-width="0.18" >0.777</text>
<rect x="1482.2" y="295.1" width="35.8" height="13.9" rx="1.5" fill="#089981"/>
<text filter="url(#nf)" x="1489.0" y="305.6" font-size="11.3" fill="#fff" textLength="24.7" lengthAdjust="spacingAndGlyphs" font-weight="bold" >4.808</text>
<text filter="url(#nf)" x="1489.0" y="581.3" font-size="11.3" fill="#131722" textLength="24.7" lengthAdjust="spacingAndGlyphs" stroke="#131722" stroke-width="0.18" >80.00</text>
<text filter="url(#nf)" x="1489.0" y="614.9" font-size="11.3" fill="#131722" textLength="24.7" lengthAdjust="spacingAndGlyphs" stroke="#131722" stroke-width="0.18" >53.97</text>
<rect x="1482.2" y="589.3" width="35.8" height="14.1" rx="1.5" fill="#7e57c2"/>
<text filter="url(#nf)" x="1489.0" y="600.2" font-size="11.3" fill="#fff" textLength="24.7" lengthAdjust="spacingAndGlyphs" stroke="#fff" stroke-width="0.35" >57.42</text>
<rect x="1482.2" y="617.9" width="35.8" height="14" rx="1.5" fill="#ffeb3b"/>
<text filter="url(#nf)" x="1489.0" y="628.9" font-size="11.3" fill="#131722" textLength="24.7" lengthAdjust="spacingAndGlyphs" stroke="#131722" stroke-width="0.18" >49.52</text>
<text filter="url(#nf)" x="1489.0" y="644.2" font-size="11.3" fill="#131722" textLength="24.7" lengthAdjust="spacingAndGlyphs" stroke="#131722" stroke-width="0.18" >1.000</text>
<rect x="1482.2" y="674.2" width="35.8" height="14.3" rx="1.5" fill="#26a69a"/>
<text filter="url(#nf)" x="1489.0" y="684.9" font-size="11.3" fill="#fff" textLength="24.7" lengthAdjust="spacingAndGlyphs" stroke="#fff" stroke-width="0.35" >0.079</text>
<g clip-path="url(#cmacd)">
<rect x="1482.2" y="688.6" width="40.8" height="14.2" rx="1.5" fill="#2962ff"/>
<text filter="url(#nf)" x="1489.0" y="699.4" font-size="11.3" fill="#fff" textLength="29.5" lengthAdjust="spacingAndGlyphs" stroke="#fff" stroke-width="0.35" >−0.004</text>
<rect x="1482.2" y="702.8" width="40.8" height="14" rx="1.5" fill="#ff6d00"/>
<text filter="url(#nf)" x="1489.0" y="713.4" font-size="11.3" fill="#fff" textLength="29.5" lengthAdjust="spacingAndGlyphs" stroke="#fff" stroke-width="0.35" >−0.083</text>
</g>
<text filter="url(#nf)" x="25.8" y="722.0" font-size="10.5" fill="#131722" textLength="16.5" lengthAdjust="spacingAndGlyphs" stroke="#131722" stroke-width="0.18" >Feb</text>
<text filter="url(#nf)" x="106.5" y="722.0" font-size="10.5" fill="#131722" textLength="16.5" lengthAdjust="spacingAndGlyphs" stroke="#131722" stroke-width="0.18" >Mar</text>
<text filter="url(#nf)" x="196.3" y="722.0" font-size="10.5" fill="#131722" textLength="15.5" lengthAdjust="spacingAndGlyphs" stroke="#131722" stroke-width="0.18" >Apr</text>
<text filter="url(#nf)" x="281.6" y="722.0" font-size="10.5" fill="#131722" textLength="18.0" lengthAdjust="spacingAndGlyphs" stroke="#131722" stroke-width="0.18" >May</text>
<text filter="url(#nf)" x="372.0" y="722.0" font-size="10.5" fill="#131722" textLength="16.0" lengthAdjust="spacingAndGlyphs" stroke="#131722" stroke-width="0.18" >Jun</text>
<text filter="url(#nf)" x="460.2" y="722.0" font-size="10.5" fill="#131722" textLength="12.5" lengthAdjust="spacingAndGlyphs" stroke="#131722" stroke-width="0.18" >Jul</text>
<text filter="url(#nf)" x="547.4" y="722.0" font-size="10.5" fill="#131722" textLength="17.0" lengthAdjust="spacingAndGlyphs" stroke="#131722" stroke-width="0.18" >Aug</text>
<text filter="url(#nf)" x="637.0" y="722.0" font-size="10.5" fill="#131722" textLength="16.5" lengthAdjust="spacingAndGlyphs" stroke="#131722" stroke-width="0.18" >Sep</text>
<text filter="url(#nf)" x="724.0" y="722.0" font-size="10.5" fill="#131722" textLength="15.5" lengthAdjust="spacingAndGlyphs" stroke="#131722" stroke-width="0.18" >Oct</text>
<text filter="url(#nf)" x="812.7" y="722.0" font-size="10.5" fill="#131722" textLength="17.0" lengthAdjust="spacingAndGlyphs" stroke="#131722" stroke-width="0.18" >Nov</text>
<text filter="url(#nf)" x="899.2" y="722.0" font-size="10.5" fill="#131722" textLength="17.0" lengthAdjust="spacingAndGlyphs" stroke="#131722" stroke-width="0.18" >Dec</text>
<text filter="url(#nf)" x="985.9" y="722.0" font-size="11.3" fill="#131722" textLength="22.5" lengthAdjust="spacingAndGlyphs" stroke="#131722" stroke-width="0.5">2024</text>
<text filter="url(#nf)" x="1078.2" y="722.0" font-size="10.5" fill="#131722" textLength="16.5" lengthAdjust="spacingAndGlyphs" stroke="#131722" stroke-width="0.18" >Feb</text>
<text filter="url(#nf)" x="1161.8" y="722.0" font-size="10.5" fill="#131722" textLength="16.5" lengthAdjust="spacingAndGlyphs" stroke="#131722" stroke-width="0.18" >Mar</text>
<text filter="url(#nf)" x="1251.8" y="722.0" font-size="10.5" fill="#131722" textLength="15.5" lengthAdjust="spacingAndGlyphs" stroke="#131722" stroke-width="0.18" >Apr</text>
<text filter="url(#nf)" x="1337.0" y="722.0" font-size="10.5" fill="#131722" textLength="18.0" lengthAdjust="spacingAndGlyphs" stroke="#131722" stroke-width="0.18" >May</text>
<text filter="url(#nf)" x="1427.3" y="722.0" font-size="10.5" fill="#131722" textLength="16.0" lengthAdjust="spacingAndGlyphs" stroke="#131722" stroke-width="0.18" >Jun</text>
<text filter="url(#nf)" x="8.3" y="16.2" font-size="11" fill="#131722" textLength="331.0" lengthAdjust="spacingAndGlyphs" stroke="#131722" stroke-width="0.18" >CryptoFXStreet published on TradingView.com, Feb 08, 2024 19:06 UTC-5</text>
<text filter="url(#nf)" x="15.3" y="38.6" font-size="10.5" fill="#131722" textLength="138.7" lengthAdjust="spacingAndGlyphs" stroke="#131722" stroke-width="0.18" >RUNE / TetherUS, 1D, BINANCE</text>
<text filter="url(#nf)" x="161.3" y="38.6" font-size="10.5" fill="#131722" textLength="6.2" lengthAdjust="spacingAndGlyphs" stroke="#131722" stroke-width="0.18" >O</text>
<text filter="url(#nf)" x="167.7" y="38.6" font-size="11.3" fill="#089981" textLength="24.6" lengthAdjust="spacingAndGlyphs" stroke="#089981" stroke-width="0.18" >4.795</text>
<text filter="url(#nf)" x="199.0" y="38.6" font-size="10.5" fill="#131722" textLength="5.8" lengthAdjust="spacingAndGlyphs" stroke="#131722" stroke-width="0.18" >H</text>
<text filter="url(#nf)" x="205.0" y="38.6" font-size="11.3" fill="#089981" textLength="25.0" lengthAdjust="spacingAndGlyphs" stroke="#089981" stroke-width="0.18" >4.810</text>
<text filter="url(#nf)" x="236.7" y="38.6" font-size="10.5" fill="#131722" textLength="4.4" lengthAdjust="spacingAndGlyphs" stroke="#131722" stroke-width="0.18" >L</text>
<text filter="url(#nf)" x="241.3" y="38.6" font-size="11.3" fill="#089981" textLength="24.7" lengthAdjust="spacingAndGlyphs" stroke="#089981" stroke-width="0.18" >4.795</text>
<text filter="url(#nf)" x="272.7" y="38.6" font-size="10.5" fill="#131722" textLength="5.6" lengthAdjust="spacingAndGlyphs" stroke="#131722" stroke-width="0.18" >C</text>
<text filter="url(#nf)" x="278.3" y="38.6" font-size="11.3" fill="#089981" textLength="25.0" lengthAdjust="spacingAndGlyphs" stroke="#089981" stroke-width="0.18" >4.808</text>
<text filter="url(#nf)" x="310.0" y="38.6" font-size="11.3" fill="#089981" textLength="70.0" lengthAdjust="spacingAndGlyphs" stroke="#089981" stroke-width="0.18" >+0.013 (+0.27%)</text>
<text filter="url(#nf)" x="387.3" y="38.6" font-size="10.5" fill="#131722" textLength="12.7" lengthAdjust="spacingAndGlyphs" stroke="#131722" stroke-width="0.18" >Vol</text>
<text filter="url(#nf)" x="400.7" y="38.6" font-size="11.3" fill="#089981" textLength="36.0" lengthAdjust="spacingAndGlyphs" stroke="#089981" stroke-width="0.18" >54.265K</text>
<text filter="url(#nf)" x="15.3" y="52.5" font-size="10.5" fill="#131722" textLength="21.7" lengthAdjust="spacingAndGlyphs" stroke="#131722" stroke-width="0.18" >SMAs</text>
<text filter="url(#nf)" x="43.3" y="52.5" font-size="11.3" fill="#f23645" textLength="24.7" lengthAdjust="spacingAndGlyphs" stroke="#f23645" stroke-width="0.18" >4.775</text>
<text filter="url(#nf)" x="74.3" y="52.5" font-size="11.3" fill="#4caf50" textLength="24.7" lengthAdjust="spacingAndGlyphs" stroke="#4caf50" stroke-width="0.18" >5.085</text>
<text filter="url(#nf)" x="105.3" y="52.5" font-size="11.3" fill="#2962ff" textLength="24.4" lengthAdjust="spacingAndGlyphs" stroke="#2962ff" stroke-width="0.18" >3.353</text>
<text filter="url(#nf)" x="15.0" y="576.8" font-size="10.5" fill="#131722" textLength="13.2" lengthAdjust="spacingAndGlyphs" stroke="#131722" stroke-width="0.18" >RSI</text>
<text filter="url(#nf)" x="35.0" y="576.8" font-size="11.3" fill="#7e57c2" textLength="24.4" lengthAdjust="spacingAndGlyphs" stroke="#7e57c2" stroke-width="0.18" >57.42</text>
<text filter="url(#nf)" x="66.0" y="576.8" font-size="11.3" fill="#fdd835" textLength="24.4" lengthAdjust="spacingAndGlyphs" stroke="#fdd835" stroke-width="0.3">49.52</text>
<text filter="url(#nf)" x="97.3" y="577.0" font-size="10" fill="#131722" textLength="6.2" lengthAdjust="spacingAndGlyphs" stroke="#131722" stroke-width="0.18" >Ø</text>
<text filter="url(#nf)" x="110.2" y="577.0" font-size="10" fill="#131722" textLength="6.2" lengthAdjust="spacingAndGlyphs" stroke="#131722" stroke-width="0.18" >Ø</text>
<text filter="url(#nf)" x="154.0" y="577.0" font-size="10" fill="#131722" textLength="6.2" lengthAdjust="spacingAndGlyphs" stroke="#131722" stroke-width="0.18" >Ø</text>
<text filter="url(#nf)" x="167.0" y="577.0" font-size="10" fill="#131722" textLength="6.2" lengthAdjust="spacingAndGlyphs" stroke="#131722" stroke-width="0.18" >Ø</text>
<text filter="url(#nf)" x="180.0" y="577.0" font-size="10" fill="#131722" textLength="6.2" lengthAdjust="spacingAndGlyphs" stroke="#131722" stroke-width="0.18" >Ø</text>
<text filter="url(#nf)" x="15.0" y="650.6" font-size="10.5" fill="#131722" textLength="25.0" lengthAdjust="spacingAndGlyphs" stroke="#131722" stroke-width="0.18" >MACD</text>
<text filter="url(#nf)" x="46.0" y="650.6" font-size="11.3" fill="#26a69a" textLength="25.0" lengthAdjust="spacingAndGlyphs" stroke="#26a69a" stroke-width="0.18" >0.079</text>
<text filter="url(#nf)" x="78.0" y="650.6" font-size="11.3" fill="#2962ff" textLength="29.5" lengthAdjust="spacingAndGlyphs" stroke="#2962ff" stroke-width="0.18" >−0.004</text>
<text filter="url(#nf)" x="114.0" y="650.6" font-size="11.3" fill="#ff6d00" textLength="29.5" lengthAdjust="spacingAndGlyphs" stroke="#ff6d00" stroke-width="0.18" >−0.083</text>
<g fill="#131722"><path d="M8.1 741h6.7v7.6h-3.5v-4.9H8.1z"/><circle cx="17.4" cy="742.35" r="1.5"/><path d="M20.7 741h3.9l-3 7.6h-3.9z"/></g>
<text filter="url(#nf)" x="28.0" y="748.6" font-size="10.9" fill="#131722" textLength="59.0" lengthAdjust="spacingAndGlyphs" stroke="#131722" stroke-width="0.25">TradingView</text></svg>
</body></html>
